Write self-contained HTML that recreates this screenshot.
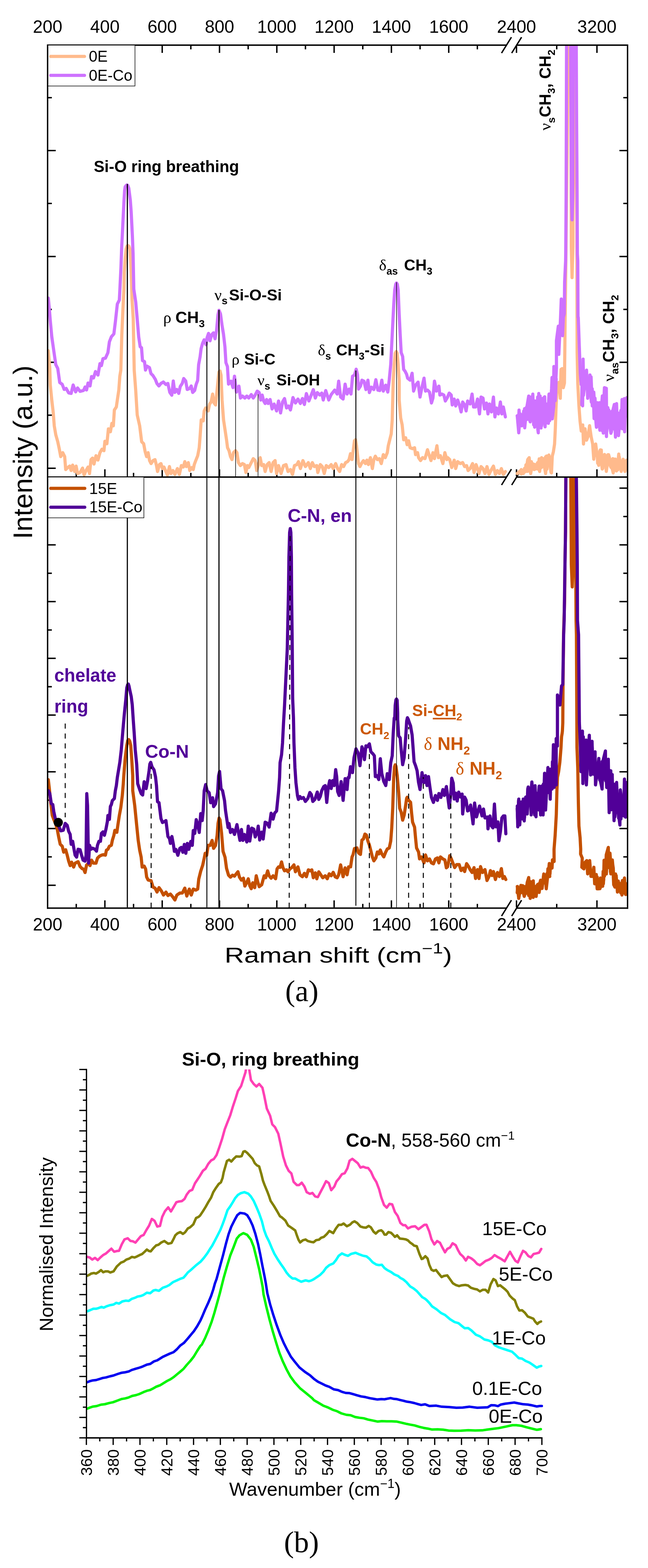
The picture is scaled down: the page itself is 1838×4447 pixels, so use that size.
<!DOCTYPE html>
<html><head><meta charset="utf-8"><title>Raman spectra</title>
<style>html,body{margin:0;padding:0;background:#fff;} svg{display:block}</style></head>
<body><svg width="1838" height="4447" viewBox="0 0 1838 4447">
<rect width="1838" height="4447" fill="#fff"/>
<line x1="135.0" y1="126.0" x2="135.0" y2="2577.5" stroke="#000" stroke-width="4" />
<line x1="1780.0" y1="126.0" x2="1780.0" y2="2577.5" stroke="#000" stroke-width="4" />
<line x1="133.0" y1="128.0" x2="1437.0" y2="128.0" stroke="#000" stroke-width="4" />
<line x1="1464.0" y1="128.0" x2="1782.0" y2="128.0" stroke="#000" stroke-width="4" />
<line x1="133.0" y1="1353.0" x2="1437.0" y2="1353.0" stroke="#000" stroke-width="4" />
<line x1="1464.0" y1="1353.0" x2="1782.0" y2="1353.0" stroke="#000" stroke-width="4" />
<line x1="133.0" y1="2575.5" x2="1437.0" y2="2575.5" stroke="#000" stroke-width="4" />
<line x1="1464.0" y1="2575.5" x2="1782.0" y2="2575.5" stroke="#000" stroke-width="4" />
<line x1="1422.6" y1="150.5" x2="1450.6" y2="105.5" stroke="#000" stroke-width="4" />
<line x1="1451.4" y1="150.5" x2="1479.4" y2="105.5" stroke="#000" stroke-width="4" />
<line x1="1422.6" y1="1375.5" x2="1450.6" y2="1330.5" stroke="#000" stroke-width="4" />
<line x1="1451.4" y1="1375.5" x2="1479.4" y2="1330.5" stroke="#000" stroke-width="4" />
<line x1="1422.6" y1="2598.0" x2="1450.6" y2="2553.0" stroke="#000" stroke-width="4" />
<line x1="1451.4" y1="2598.0" x2="1479.4" y2="2553.0" stroke="#000" stroke-width="4" />
<line x1="297.5" y1="130.0" x2="297.5" y2="150.0" stroke="#000" stroke-width="4" />
<line x1="297.5" y1="1351.0" x2="297.5" y2="1331.0" stroke="#000" stroke-width="4" />
<line x1="297.5" y1="2573.5" x2="297.5" y2="2553.5" stroke="#000" stroke-width="4" />
<line x1="460.1" y1="130.0" x2="460.1" y2="150.0" stroke="#000" stroke-width="4" />
<line x1="460.1" y1="1351.0" x2="460.1" y2="1331.0" stroke="#000" stroke-width="4" />
<line x1="460.1" y1="2573.5" x2="460.1" y2="2553.5" stroke="#000" stroke-width="4" />
<line x1="622.6" y1="130.0" x2="622.6" y2="150.0" stroke="#000" stroke-width="4" />
<line x1="622.6" y1="1351.0" x2="622.6" y2="1331.0" stroke="#000" stroke-width="4" />
<line x1="622.6" y1="2573.5" x2="622.6" y2="2553.5" stroke="#000" stroke-width="4" />
<line x1="785.2" y1="130.0" x2="785.2" y2="150.0" stroke="#000" stroke-width="4" />
<line x1="785.2" y1="1351.0" x2="785.2" y2="1331.0" stroke="#000" stroke-width="4" />
<line x1="785.2" y1="2573.5" x2="785.2" y2="2553.5" stroke="#000" stroke-width="4" />
<line x1="947.7" y1="130.0" x2="947.7" y2="150.0" stroke="#000" stroke-width="4" />
<line x1="947.7" y1="1351.0" x2="947.7" y2="1331.0" stroke="#000" stroke-width="4" />
<line x1="947.7" y1="2573.5" x2="947.7" y2="2553.5" stroke="#000" stroke-width="4" />
<line x1="1110.2" y1="130.0" x2="1110.2" y2="150.0" stroke="#000" stroke-width="4" />
<line x1="1110.2" y1="1351.0" x2="1110.2" y2="1331.0" stroke="#000" stroke-width="4" />
<line x1="1110.2" y1="2573.5" x2="1110.2" y2="2553.5" stroke="#000" stroke-width="4" />
<line x1="1272.8" y1="130.0" x2="1272.8" y2="150.0" stroke="#000" stroke-width="4" />
<line x1="1272.8" y1="1351.0" x2="1272.8" y2="1331.0" stroke="#000" stroke-width="4" />
<line x1="1272.8" y1="2573.5" x2="1272.8" y2="2553.5" stroke="#000" stroke-width="4" />
<line x1="1465.0" y1="130.0" x2="1465.0" y2="150.0" stroke="#000" stroke-width="4" />
<line x1="1465.0" y1="1351.0" x2="1465.0" y2="1331.0" stroke="#000" stroke-width="4" />
<line x1="1465.0" y1="2573.5" x2="1465.0" y2="2553.5" stroke="#000" stroke-width="4" />
<line x1="1693.2" y1="130.0" x2="1693.2" y2="150.0" stroke="#000" stroke-width="4" />
<line x1="1693.2" y1="1351.0" x2="1693.2" y2="1331.0" stroke="#000" stroke-width="4" />
<line x1="1693.2" y1="2573.5" x2="1693.2" y2="2553.5" stroke="#000" stroke-width="4" />
<line x1="216.3" y1="130.0" x2="216.3" y2="140.0" stroke="#000" stroke-width="4" />
<line x1="216.3" y1="1351.0" x2="216.3" y2="1341.0" stroke="#000" stroke-width="4" />
<line x1="216.3" y1="2573.5" x2="216.3" y2="2563.5" stroke="#000" stroke-width="4" />
<line x1="378.8" y1="130.0" x2="378.8" y2="140.0" stroke="#000" stroke-width="4" />
<line x1="378.8" y1="1351.0" x2="378.8" y2="1341.0" stroke="#000" stroke-width="4" />
<line x1="378.8" y1="2573.5" x2="378.8" y2="2563.5" stroke="#000" stroke-width="4" />
<line x1="541.3" y1="130.0" x2="541.3" y2="140.0" stroke="#000" stroke-width="4" />
<line x1="541.3" y1="1351.0" x2="541.3" y2="1341.0" stroke="#000" stroke-width="4" />
<line x1="541.3" y1="2573.5" x2="541.3" y2="2563.5" stroke="#000" stroke-width="4" />
<line x1="703.9" y1="130.0" x2="703.9" y2="140.0" stroke="#000" stroke-width="4" />
<line x1="703.9" y1="1351.0" x2="703.9" y2="1341.0" stroke="#000" stroke-width="4" />
<line x1="703.9" y1="2573.5" x2="703.9" y2="2563.5" stroke="#000" stroke-width="4" />
<line x1="866.4" y1="130.0" x2="866.4" y2="140.0" stroke="#000" stroke-width="4" />
<line x1="866.4" y1="1351.0" x2="866.4" y2="1341.0" stroke="#000" stroke-width="4" />
<line x1="866.4" y1="2573.5" x2="866.4" y2="2563.5" stroke="#000" stroke-width="4" />
<line x1="1029.0" y1="130.0" x2="1029.0" y2="140.0" stroke="#000" stroke-width="4" />
<line x1="1029.0" y1="1351.0" x2="1029.0" y2="1341.0" stroke="#000" stroke-width="4" />
<line x1="1029.0" y1="2573.5" x2="1029.0" y2="2563.5" stroke="#000" stroke-width="4" />
<line x1="1191.5" y1="130.0" x2="1191.5" y2="140.0" stroke="#000" stroke-width="4" />
<line x1="1191.5" y1="1351.0" x2="1191.5" y2="1341.0" stroke="#000" stroke-width="4" />
<line x1="1191.5" y1="2573.5" x2="1191.5" y2="2563.5" stroke="#000" stroke-width="4" />
<line x1="1354.0" y1="130.0" x2="1354.0" y2="140.0" stroke="#000" stroke-width="4" />
<line x1="1354.0" y1="1351.0" x2="1354.0" y2="1341.0" stroke="#000" stroke-width="4" />
<line x1="1354.0" y1="2573.5" x2="1354.0" y2="2563.5" stroke="#000" stroke-width="4" />
<line x1="1579.1" y1="130.0" x2="1579.1" y2="140.0" stroke="#000" stroke-width="4" />
<line x1="1579.1" y1="1351.0" x2="1579.1" y2="1341.0" stroke="#000" stroke-width="4" />
<line x1="1579.1" y1="2573.5" x2="1579.1" y2="2563.5" stroke="#000" stroke-width="4" />
<line x1="137.0" y1="277.0" x2="147.0" y2="277.0" stroke="#000" stroke-width="4" />
<line x1="1778.0" y1="277.0" x2="1768.0" y2="277.0" stroke="#000" stroke-width="4" />
<line x1="137.0" y1="427.0" x2="158.0" y2="427.0" stroke="#000" stroke-width="4" />
<line x1="1778.0" y1="427.0" x2="1757.0" y2="427.0" stroke="#000" stroke-width="4" />
<line x1="137.0" y1="577.0" x2="147.0" y2="577.0" stroke="#000" stroke-width="4" />
<line x1="1778.0" y1="577.0" x2="1768.0" y2="577.0" stroke="#000" stroke-width="4" />
<line x1="137.0" y1="727.5" x2="158.0" y2="727.5" stroke="#000" stroke-width="4" />
<line x1="1778.0" y1="727.5" x2="1757.0" y2="727.5" stroke="#000" stroke-width="4" />
<line x1="137.0" y1="877.5" x2="147.0" y2="877.5" stroke="#000" stroke-width="4" />
<line x1="1778.0" y1="877.5" x2="1768.0" y2="877.5" stroke="#000" stroke-width="4" />
<line x1="137.0" y1="1027.5" x2="158.0" y2="1027.5" stroke="#000" stroke-width="4" />
<line x1="1778.0" y1="1027.5" x2="1757.0" y2="1027.5" stroke="#000" stroke-width="4" />
<line x1="137.0" y1="1177.5" x2="147.0" y2="1177.5" stroke="#000" stroke-width="4" />
<line x1="1778.0" y1="1177.5" x2="1768.0" y2="1177.5" stroke="#000" stroke-width="4" />
<line x1="137.0" y1="1328.0" x2="158.0" y2="1328.0" stroke="#000" stroke-width="4" />
<line x1="1778.0" y1="1328.0" x2="1757.0" y2="1328.0" stroke="#000" stroke-width="4" />
<line x1="137.0" y1="1384.4" x2="158.0" y2="1384.4" stroke="#000" stroke-width="4" />
<line x1="1778.0" y1="1384.4" x2="1757.0" y2="1384.4" stroke="#000" stroke-width="4" />
<line x1="137.0" y1="1464.9" x2="147.0" y2="1464.9" stroke="#000" stroke-width="4" />
<line x1="1778.0" y1="1464.9" x2="1768.0" y2="1464.9" stroke="#000" stroke-width="4" />
<line x1="137.0" y1="1545.3" x2="158.0" y2="1545.3" stroke="#000" stroke-width="4" />
<line x1="1778.0" y1="1545.3" x2="1757.0" y2="1545.3" stroke="#000" stroke-width="4" />
<line x1="137.0" y1="1625.8" x2="147.0" y2="1625.8" stroke="#000" stroke-width="4" />
<line x1="1778.0" y1="1625.8" x2="1768.0" y2="1625.8" stroke="#000" stroke-width="4" />
<line x1="137.0" y1="1706.2" x2="158.0" y2="1706.2" stroke="#000" stroke-width="4" />
<line x1="1778.0" y1="1706.2" x2="1757.0" y2="1706.2" stroke="#000" stroke-width="4" />
<line x1="137.0" y1="1786.7" x2="147.0" y2="1786.7" stroke="#000" stroke-width="4" />
<line x1="1778.0" y1="1786.7" x2="1768.0" y2="1786.7" stroke="#000" stroke-width="4" />
<line x1="137.0" y1="1867.1" x2="158.0" y2="1867.1" stroke="#000" stroke-width="4" />
<line x1="1778.0" y1="1867.1" x2="1757.0" y2="1867.1" stroke="#000" stroke-width="4" />
<line x1="137.0" y1="1947.6" x2="147.0" y2="1947.6" stroke="#000" stroke-width="4" />
<line x1="1778.0" y1="1947.6" x2="1768.0" y2="1947.6" stroke="#000" stroke-width="4" />
<line x1="137.0" y1="2028.0" x2="158.0" y2="2028.0" stroke="#000" stroke-width="4" />
<line x1="1778.0" y1="2028.0" x2="1757.0" y2="2028.0" stroke="#000" stroke-width="4" />
<line x1="137.0" y1="2108.5" x2="147.0" y2="2108.5" stroke="#000" stroke-width="4" />
<line x1="1778.0" y1="2108.5" x2="1768.0" y2="2108.5" stroke="#000" stroke-width="4" />
<line x1="137.0" y1="2188.9" x2="158.0" y2="2188.9" stroke="#000" stroke-width="4" />
<line x1="1778.0" y1="2188.9" x2="1757.0" y2="2188.9" stroke="#000" stroke-width="4" />
<line x1="137.0" y1="2269.4" x2="147.0" y2="2269.4" stroke="#000" stroke-width="4" />
<line x1="1778.0" y1="2269.4" x2="1768.0" y2="2269.4" stroke="#000" stroke-width="4" />
<line x1="137.0" y1="2349.8" x2="158.0" y2="2349.8" stroke="#000" stroke-width="4" />
<line x1="1778.0" y1="2349.8" x2="1757.0" y2="2349.8" stroke="#000" stroke-width="4" />
<line x1="137.0" y1="2430.2" x2="147.0" y2="2430.2" stroke="#000" stroke-width="4" />
<line x1="1778.0" y1="2430.2" x2="1768.0" y2="2430.2" stroke="#000" stroke-width="4" />
<line x1="137.0" y1="2510.7" x2="158.0" y2="2510.7" stroke="#000" stroke-width="4" />
<line x1="1778.0" y1="2510.7" x2="1757.0" y2="2510.7" stroke="#000" stroke-width="4" />
<text x="135.0" y="93.0" font-size="50" text-anchor="middle" font-weight="normal" fill="#000" font-family="'Liberation Sans', Arial, sans-serif" >200</text>
<text x="135.0" y="2639.0" font-size="50" text-anchor="middle" font-weight="normal" fill="#000" font-family="'Liberation Sans', Arial, sans-serif" >200</text>
<text x="297.5" y="93.0" font-size="50" text-anchor="middle" font-weight="normal" fill="#000" font-family="'Liberation Sans', Arial, sans-serif" >400</text>
<text x="297.5" y="2639.0" font-size="50" text-anchor="middle" font-weight="normal" fill="#000" font-family="'Liberation Sans', Arial, sans-serif" >400</text>
<text x="460.1" y="93.0" font-size="50" text-anchor="middle" font-weight="normal" fill="#000" font-family="'Liberation Sans', Arial, sans-serif" >600</text>
<text x="460.1" y="2639.0" font-size="50" text-anchor="middle" font-weight="normal" fill="#000" font-family="'Liberation Sans', Arial, sans-serif" >600</text>
<text x="622.6" y="93.0" font-size="50" text-anchor="middle" font-weight="normal" fill="#000" font-family="'Liberation Sans', Arial, sans-serif" >800</text>
<text x="622.6" y="2639.0" font-size="50" text-anchor="middle" font-weight="normal" fill="#000" font-family="'Liberation Sans', Arial, sans-serif" >800</text>
<text x="785.2" y="93.0" font-size="50" text-anchor="middle" font-weight="normal" fill="#000" font-family="'Liberation Sans', Arial, sans-serif" >1000</text>
<text x="785.2" y="2639.0" font-size="50" text-anchor="middle" font-weight="normal" fill="#000" font-family="'Liberation Sans', Arial, sans-serif" >1000</text>
<text x="947.7" y="93.0" font-size="50" text-anchor="middle" font-weight="normal" fill="#000" font-family="'Liberation Sans', Arial, sans-serif" >1200</text>
<text x="947.7" y="2639.0" font-size="50" text-anchor="middle" font-weight="normal" fill="#000" font-family="'Liberation Sans', Arial, sans-serif" >1200</text>
<text x="1110.2" y="93.0" font-size="50" text-anchor="middle" font-weight="normal" fill="#000" font-family="'Liberation Sans', Arial, sans-serif" >1400</text>
<text x="1110.2" y="2639.0" font-size="50" text-anchor="middle" font-weight="normal" fill="#000" font-family="'Liberation Sans', Arial, sans-serif" >1400</text>
<text x="1272.8" y="93.0" font-size="50" text-anchor="middle" font-weight="normal" fill="#000" font-family="'Liberation Sans', Arial, sans-serif" >1600</text>
<text x="1272.8" y="2639.0" font-size="50" text-anchor="middle" font-weight="normal" fill="#000" font-family="'Liberation Sans', Arial, sans-serif" >1600</text>
<text x="1465.0" y="93.0" font-size="50" text-anchor="middle" font-weight="normal" fill="#000" font-family="'Liberation Sans', Arial, sans-serif" >2400</text>
<text x="1465.0" y="2639.0" font-size="50" text-anchor="middle" font-weight="normal" fill="#000" font-family="'Liberation Sans', Arial, sans-serif" >2400</text>
<text x="1693.2" y="93.0" font-size="50" text-anchor="middle" font-weight="normal" fill="#000" font-family="'Liberation Sans', Arial, sans-serif" >3200</text>
<text x="1693.2" y="2639.0" font-size="50" text-anchor="middle" font-weight="normal" fill="#000" font-family="'Liberation Sans', Arial, sans-serif" >3200</text>
<defs><clipPath id="cpT"><rect x="137" y="130" width="1641" height="1221"/></clipPath><clipPath id="cpB"><rect x="137" y="1355" width="1641" height="1218.5"/></clipPath><clipPath id="cpP"><rect x="247" y="3033" width="1400" height="1043"/></clipPath></defs>
<path d="M137.0,994.6 L141.3,1045.4 L142.7,1092.3 L146.9,1134.5 L151.1,1171.1 L153.9,1207.7 L158.2,1233.1 L163.8,1252.8 L168.0,1272.5 L172.3,1295.1 L177.9,1283.8 L183.5,1295.1 L186.3,1331.7 L192.0,1326.0 L197.6,1321.8 L201.8,1334.5 L206.1,1319.0 L211.7,1337.3 L215.9,1321.8 L220.1,1343.0 L227.2,1340.1 L234.2,1327.5 L238.5,1347.2 L244.1,1334.5 L249.7,1324.6 L253.9,1343.0 L258.2,1303.5 L262.4,1299.3 L266.6,1316.2 L272.3,1292.3 L277.9,1304.9 L283.5,1283.8 L289.2,1273.9 L294.8,1278.2 L297.6,1251.4 L303.2,1258.5 L307.5,1216.2 L313.1,1224.6 L317.3,1200.7 L321.5,1207.7 L324.4,1162.7 L330.0,1154.2 L332.8,1134.5 L337.0,1106.3 L339.9,1066.9 L342.7,1050.0 L345.5,950.0 L348.5,880.0 L351.6,820.0 L352.6,772.0 L355.2,732.6 L357.8,706.0 L360.5,698.0 L363.1,696.5 L365.5,698.0 L368.4,706.3 L370.3,732.6 L372.0,772.0 L373.0,800.0 L374.5,850.0 L377.9,904.5 L380.7,1050.0 L384.9,1106.3 L389.2,1176.8 L396.2,1207.7 L401.8,1252.8 L407.5,1258.5 L411.7,1281.0 L415.9,1295.1 L420.1,1283.8 L424.2,1306.3 L428.5,1314.8 L434.1,1306.3 L439.7,1303.5 L443.9,1320.4 L446.8,1337.3 L452.4,1317.6 L456.6,1314.8 L460.8,1328.9 L465.1,1324.6 L469.3,1334.5 L474.9,1347.2 L480.6,1323.2 L484.8,1343.0 L490.4,1334.5 L496.1,1345.8 L503.1,1328.9 L508.7,1345.8 L514.4,1320.4 L520.0,1324.6 L524.2,1309.2 L528.5,1323.2 L534.1,1312.0 L538.3,1334.5 L543.9,1326.0 L548.2,1331.7 L551.0,1317.6 L555.2,1306.3 L560.8,1292.3 L565.1,1269.7 L567.9,1233.1 L570.7,1190.8 L576.3,1193.7 L579.2,1165.5 L583.4,1157.0 L590.4,1165.5 L594.6,1145.8 L598.9,1140.1 L603.1,1117.6 L607.3,1143.0 L611.5,1148.6 L615.8,1106.3 L618.6,1078.2 L621.0,1055.0 L624.0,1052.0 L627.0,1064.1 L629.9,1134.5 L634.1,1190.8 L638.3,1219.0 L642.5,1247.2 L645.4,1269.7 L649.6,1278.2 L653.8,1295.1 L658.0,1303.5 L662.3,1283.8 L667.9,1278.2 L672.1,1283.8 L676.3,1312.0 L681.9,1320.4 L687.6,1314.8 L693.2,1317.6 L697.5,1340.1 L701.7,1320.4 L705.6,1326.0 L711.3,1314.8 L718.3,1300.7 L723.9,1306.3 L728.2,1334.5 L732.4,1320.4 L738.0,1297.9 L742.3,1320.4 L747.9,1317.6 L752.1,1337.3 L757.7,1317.6 L763.4,1312.0 L769.0,1337.3 L774.6,1312.0 L780.3,1306.3 L784.5,1343.0 L790.1,1320.4 L797.2,1343.0 L804.2,1320.4 L811.3,1317.6 L816.9,1337.3 L823.9,1331.7 L829.6,1345.8 L835.2,1320.4 L842.3,1317.6 L846.5,1309.2 L852.1,1328.9 L859.2,1306.3 L866.2,1323.2 L874.6,1312.0 L880.3,1328.9 L885.9,1312.0 L891.5,1323.2 L898.6,1320.4 L901.4,1340.1 L908.5,1317.6 L914.1,1323.2 L919.7,1343.0 L925.4,1320.4 L932.4,1326.0 L939.4,1317.6 L945.1,1328.9 L952.1,1314.8 L957.7,1328.9 L963.4,1337.3 L969.0,1317.6 L974.6,1323.2 L980.3,1312.0 L985.9,1309.2 L990.0,1303.5 L994.2,1286.6 L998.5,1303.5 L1005.5,1250.0 L1008.5,1247.0 L1011.1,1264.1 L1016.8,1314.8 L1021.0,1323.2 L1025.2,1314.8 L1030.8,1306.3 L1036.5,1314.8 L1040.7,1304.9 L1044.9,1317.6 L1050.6,1297.9 L1056.2,1328.9 L1060.4,1303.5 L1064.6,1293.7 L1070.3,1303.5 L1075.9,1300.7 L1081.5,1314.8 L1087.2,1289.4 L1092.8,1297.9 L1098.5,1283.8 L1101.3,1264.1 L1105.5,1247.2 L1109.7,1230.3 L1112.5,1190.8 L1113.9,1134.5 L1115.4,1078.6 L1118.2,1033.5 L1121.0,1002.0 L1123.8,997.0 L1126.5,1002.0 L1129.4,1033.5 L1132.3,1078.6 L1132.3,1134.5 L1136.5,1185.2 L1140.7,1204.9 L1144.9,1247.2 L1150.6,1241.5 L1154.8,1261.3 L1159.0,1250.0 L1163.2,1269.7 L1170.3,1272.5 L1175.9,1269.7 L1178.7,1289.4 L1184.4,1283.8 L1187.2,1297.9 L1192.8,1306.3 L1198.5,1297.9 L1205.5,1300.7 L1212.5,1275.4 L1216.8,1289.4 L1222.4,1306.3 L1228.0,1283.8 L1232.3,1300.7 L1239.3,1264.1 L1243.5,1297.9 L1249.2,1292.3 L1256.2,1314.8 L1261.8,1283.8 L1267.5,1303.5 L1270.0,1297.9 L1275.6,1303.5 L1281.3,1326.0 L1288.3,1304.9 L1292.5,1328.9 L1298.2,1309.2 L1305.2,1314.8 L1312.3,1312.0 L1317.9,1323.2 L1323.5,1320.4 L1327.7,1334.5 L1333.4,1328.9 L1340.4,1314.8 L1344.6,1340.1 L1350.3,1317.6 L1354.5,1328.9 L1358.7,1343.0 L1364.4,1323.2 L1370.0,1328.9 L1375.6,1343.0 L1381.3,1323.2 L1386.9,1345.8 L1393.9,1331.7 L1399.6,1321.8 L1405.2,1345.8 L1410.8,1334.5 L1416.5,1343.0 L1422.1,1328.9 L1427.7,1345.8 L1433.4,1337.3" fill="none" stroke="#FFBA8C" stroke-width="9" stroke-linejoin="round" stroke-linecap="round" clip-path="url(#cpT)" />
<path d="M1467.2,1343.0 L1472.8,1340.1 L1478.5,1331.7 L1484.1,1343.0 L1492.5,1331.7 L1496.8,1303.5 L1501.0,1297.9 L1505.2,1343.0 L1509.4,1320.4 L1515.1,1331.7 L1520.7,1323.2 L1524.9,1312.0 L1530.6,1337.3 L1536.2,1297.9 L1541.8,1309.2 L1547.5,1343.0 L1551.7,1303.5 L1557.3,1300.7 L1563.0,1340.1 L1564.3,1341.3 L1566.5,1293.7 L1569.7,1280.8 L1573.0,1259.2 L1575.1,1216.0 L1577.3,1151.2 L1579.4,1108.0 L1581.6,1086.4 L1585.9,1084.2 L1589.2,1129.6 L1591.3,1047.5 L1594.6,1045.4 L1597.8,1099.4 L1601.0,1086.4 L1602.0,1000.0 L1603.0,900.0 L1605.0,740.0 L1607.0,560.0 L1610.0,300.0 L1611.0,130.0 L1612.0,100.0 L1619.0,100.0 L1619.5,300.0 L1620.0,560.0 L1620.5,700.0 L1622.6,787.5 L1625.0,700.0 L1625.5,560.0 L1626.0,300.0 L1626.5,130.0 L1627.0,100.0 L1629.0,100.0 L1630.3,333.0 L1634.0,480.0 L1636.0,620.0 L1636.5,800.0 L1637.0,1000.0 L1638.8,1086.4 L1642.1,1151.2 L1645.3,1194.4 L1648.6,1222.5 L1652.9,1205.2 L1655.0,1259.2 L1659.4,1216.0 L1663.7,1248.4 L1668.0,1237.6 L1672.3,1207.3 L1676.6,1237.6 L1681.0,1259.2 L1684.2,1302.4 L1689.6,1259.2 L1693.9,1291.6 L1698.2,1319.7 L1702.5,1289.4 L1709.0,1324.0 L1715.5,1291.6 L1719.8,1337.0 L1726.3,1289.4 L1732.8,1313.2 L1739.3,1341.3 L1745.7,1302.4 L1752.2,1324.0 L1756.5,1295.9 L1762.0,1337.0 L1767.3,1302.4 L1772.7,1337.0 L1778.1,1306.7" fill="none" stroke="#FFBA8C" stroke-width="9" stroke-linejoin="round" stroke-linecap="round" clip-path="url(#cpT)" />
<path d="M1467.0,1342.6 L1468.3,1342.6 L1469.6,1340.2 L1470.9,1339.8 L1472.2,1337.9 L1473.5,1340.6 L1474.8,1340.8 L1476.1,1337.9 L1477.4,1337.9 L1478.7,1344.6 L1480.0,1341.5 L1481.3,1333.7 L1482.6,1335.4 L1483.9,1342.4 L1485.2,1340.7 L1486.5,1339.5 L1487.8,1328.2 L1489.1,1331.5 L1490.4,1337.4 L1491.7,1318.3 L1493.0,1333.6 L1494.3,1324.0 L1495.6,1337.0 L1496.9,1313.5 L1498.2,1325.2 L1499.5,1330.4 L1500.8,1313.0 L1502.1,1336.6 L1503.4,1336.0 L1504.7,1313.1 L1506.0,1331.6 L1507.3,1309.4 L1508.6,1321.9 L1509.9,1320.2 L1511.2,1315.0 L1512.5,1317.8 L1513.8,1328.8 L1515.1,1320.0 L1516.4,1317.1 L1517.7,1330.8 L1519.0,1326.6 L1520.3,1327.5 L1521.6,1319.4 L1522.9,1318.1 L1524.2,1330.1 L1525.5,1323.4 L1526.8,1323.3 L1528.1,1311.9 L1529.4,1301.2 L1530.7,1321.7 L1532.0,1302.8 L1533.3,1319.7 L1534.6,1314.2 L1535.9,1325.7 L1537.2,1308.9 L1538.5,1323.3 L1539.8,1311.0 L1541.1,1300.7 L1542.4,1317.1 L1543.7,1312.0 L1545.0,1308.8 L1546.3,1302.5 L1547.6,1295.5 L1548.9,1307.6 L1550.2,1293.3 L1551.5,1330.4 L1552.8,1314.0 L1554.1,1304.8 L1555.4,1319.8 L1556.7,1290.5 L1558.0,1298.8 L1559.3,1316.2 L1560.6,1296.4 L1561.9,1310.5 L1563.2,1304.2 L1564.5,1335.9" fill="none" stroke="#FFBA8C" stroke-width="9" stroke-linejoin="round" stroke-linecap="round" clip-path="url(#cpT)" />
<path d="M1690.0,1291.1 L1691.3,1284.9 L1692.6,1285.9 L1693.9,1286.0 L1695.2,1313.8 L1696.5,1301.6 L1697.8,1303.0 L1699.1,1285.1 L1700.4,1298.5 L1701.7,1278.4 L1703.0,1275.8 L1704.3,1302.4 L1705.6,1276.5 L1706.9,1320.2 L1708.2,1330.2 L1709.5,1328.9 L1710.8,1305.1 L1712.1,1310.3 L1713.4,1305.6 L1714.7,1288.9 L1716.0,1296.7 L1717.3,1295.3 L1718.6,1297.4 L1719.9,1313.1 L1721.2,1320.9 L1722.5,1314.4 L1723.8,1289.8 L1725.1,1314.1 L1726.4,1300.6 L1727.7,1311.1 L1729.0,1316.2 L1730.3,1318.9 L1731.6,1322.3 L1732.9,1325.7 L1734.2,1306.4 L1735.5,1309.0 L1736.8,1322.5 L1738.1,1300.8 L1739.4,1324.5 L1740.7,1315.4 L1742.0,1314.3 L1743.3,1323.1 L1744.6,1301.9 L1745.9,1322.7 L1747.2,1322.7 L1748.5,1335.7 L1749.8,1310.9 L1751.1,1316.2 L1752.4,1332.2 L1753.7,1300.5 L1755.0,1287.8 L1756.3,1308.1 L1757.6,1311.3 L1758.9,1326.3 L1760.2,1314.0 L1761.5,1316.9 L1762.8,1333.8 L1764.1,1312.3 L1765.4,1309.4 L1766.7,1305.2 L1768.0,1304.1 L1769.3,1308.1 L1770.6,1331.5 L1771.9,1325.3 L1773.2,1325.9 L1774.5,1324.3 L1775.8,1314.3 L1777.1,1305.3" fill="none" stroke="#FFBA8C" stroke-width="9" stroke-linejoin="round" stroke-linecap="round" clip-path="url(#cpT)" />
<path d="M137.0,845.4 L139.9,876.0 L142.7,910.0 L146.9,955.0 L152.5,994.6 L158.2,1034.0 L163.8,1045.0 L169.4,1084.8 L176.5,1090.0 L182.0,1104.5 L187.7,1101.7 L194.8,1114.4 L201.8,1115.8 L207.5,1091.8 L214.5,1111.5 L220.1,1100.3 L227.2,1110.0 L237.0,1107.3 L241.3,1097.5 L245.5,1106.0 L249.7,1086.2 L255.4,1094.6 L259.6,1067.9 L265.2,1072.1 L270.8,1053.8 L277.9,1063.7 L283.5,1031.3 L287.7,1036.9 L292.0,1017.2 L299.0,1015.8 L306.0,1000.3 L310.3,969.3 L315.9,955.2 L323.0,946.8 L327.2,913.0 L332.8,862.3 L338.5,851.0 L340.1,820.0 L343.0,760.0 L345.2,700.0 L346.8,669.0 L348.4,635.2 L350.1,601.4 L351.8,567.6 L353.5,540.0 L355.0,530.0 L358.0,526.0 L360.3,524.5 L362.5,526.0 L365.3,533.8 L369.6,567.6 L372.1,601.4 L373.8,635.2 L375.5,669.0 L377.5,720.0 L379.5,820.0 L385.0,856.6 L389.2,904.5 L393.4,955.2 L397.6,983.4 L401.4,986.2 L404.2,1022.8 L409.9,1025.6 L412.7,1049.6 L416.9,1038.3 L423.9,1042.5 L428.2,1059.4 L433.8,1065.0 L440.8,1076.3 L445.1,1087.6 L450.7,1094.6 L456.3,1087.6 L463.4,1083.4 L470.4,1090.4 L476.1,1087.6 L481.7,1113.0 L487.3,1120.8 L491.5,1080.6 L495.8,1113.0 L501.4,1104.5 L507.0,1115.8 L511.3,1096.0 L516.9,1087.6 L521.1,1073.5 L526.8,1080.6 L531.0,1104.5 L538.0,1101.7 L542.3,1094.6 L546.5,1113.0 L552.1,1107.3 L556.3,1090.4 L560.6,1079.2 L563.4,1034.1 L567.6,1011.5 L570.4,989.0 L574.6,973.5 L578.9,963.7 L584.5,977.7 L587.3,958.0 L591.5,945.4 L595.8,966.5 L600.0,949.6 L605.6,943.9 L609.9,960.8 L614.1,938.3 L618.3,893.2 L621.1,880.0 L625.4,890.4 L629.6,921.4 L633.8,946.8 L638.0,983.4 L640.8,1028.5 L645.1,1039.7 L648.2,1089.4 L655.2,1081.0 L660.8,1099.3 L665.1,1066.9 L670.7,1112.0 L677.7,1095.1 L682.0,1128.9 L687.6,1123.2 L694.6,1128.9 L700.0,1123.2 L705.6,1128.9 L712.7,1119.0 L718.3,1128.9 L723.9,1120.4 L729.6,1109.2 L735.2,1113.4 L739.4,1134.5 L743.7,1120.4 L747.9,1137.3 L752.1,1144.4 L756.3,1133.1 L760.6,1144.4 L766.2,1133.1 L771.8,1159.9 L777.5,1145.8 L784.5,1165.5 L790.1,1137.3 L795.8,1171.1 L801.4,1140.1 L807.0,1130.3 L812.7,1157.0 L818.3,1151.4 L823.9,1162.7 L831.0,1127.5 L838.0,1143.0 L845.1,1131.7 L852.1,1144.4 L857.7,1130.3 L863.4,1147.2 L869.0,1116.2 L876.1,1137.3 L881.7,1123.2 L888.7,1104.9 L894.4,1128.9 L900.0,1113.4 L907.0,1120.4 L912.7,1114.8 L916.9,1134.5 L923.9,1107.7 L932.4,1134.5 L939.4,1119.0 L949.3,1106.3 L956.3,1117.6 L960.6,1081.0 L966.2,1126.1 L973.2,1131.7 L978.9,1089.4 L984.5,1117.6 L990.0,1103.5 L995.6,1117.6 L999.9,1066.9 L1005.5,1064.1 L1010.3,1047.0 L1013.9,1061.7 L1016.8,1103.5 L1022.4,1095.1 L1026.6,1078.2 L1032.3,1081.0 L1037.9,1104.9 L1043.5,1078.2 L1047.7,1113.4 L1053.4,1097.9 L1060.4,1104.9 L1066.1,1076.8 L1071.7,1106.3 L1077.3,1107.7 L1083.0,1078.2 L1087.2,1109.2 L1094.2,1092.3 L1099.9,1112.0 L1104.1,1077.0 L1108.3,1033.5 L1111.1,977.2 L1113.9,920.8 L1116.8,864.5 L1119.6,822.3 L1122.5,806.0 L1124.6,802.5 L1127.0,806.0 L1129.4,822.3 L1132.3,892.7 L1135.1,949.0 L1137.9,999.7 L1142.1,1011.0 L1144.9,1047.6 L1149.2,1053.2 L1153.4,1061.7 L1156.2,1072.5 L1163.2,1078.2 L1168.9,1058.5 L1173.1,1109.2 L1178.7,1092.3 L1185.8,1083.8 L1191.4,1126.1 L1197.0,1097.9 L1202.7,1072.5 L1206.9,1109.2 L1212.5,1106.3 L1218.2,1112.0 L1223.8,1143.0 L1228.0,1128.9 L1232.3,1081.0 L1237.9,1109.2 L1244.9,1095.1 L1247.7,1120.4 L1253.4,1117.6 L1259.0,1120.4 L1263.2,1137.3 L1268.9,1127.5 L1274.2,1114.8 L1279.9,1120.4 L1282.7,1148.6 L1288.3,1131.7 L1292.5,1151.4 L1298.2,1134.5 L1303.8,1151.4 L1308.0,1168.3 L1312.3,1140.1 L1317.9,1148.6 L1322.1,1165.5 L1326.3,1137.3 L1333.4,1145.8 L1339.0,1117.6 L1343.2,1154.2 L1348.9,1154.2 L1354.5,1131.7 L1360.1,1173.9 L1364.4,1126.1 L1370.0,1128.9 L1374.2,1159.9 L1379.9,1143.0 L1384.1,1173.9 L1388.3,1145.8 L1393.9,1168.3 L1399.6,1126.1 L1403.8,1182.4 L1408.0,1157.0 L1413.7,1173.9 L1419.3,1140.1 L1423.5,1173.9 L1427.7,1154.2 L1433.4,1182.4" fill="none" stroke="#CE72FF" stroke-width="9" stroke-linejoin="round" stroke-linecap="round" clip-path="url(#cpT)" />
<path d="M1467.2,1179.6 L1471.4,1227.5 L1475.6,1173.9 L1479.9,1207.7 L1485.5,1165.5 L1488.3,1213.4 L1494.0,1157.0 L1499.6,1123.2 L1503.8,1196.5 L1509.4,1137.3 L1513.7,1204.9 L1517.9,1137.3 L1522.1,1199.3 L1525.0,1126.1 L1529.2,1210.6 L1532.0,1123.2 L1536.2,1207.7 L1541.8,1143.0 L1546.1,1210.6 L1548.9,1145.8 L1553.1,1190.8 L1557.3,1117.6 L1561.5,1176.8 L1566.5,1187.9 L1570.8,1151.2 L1571.9,1090.7 L1576.2,1086.4 L1578.3,1043.2 L1578.3,966.0 L1583.6,925.0 L1585.0,1005.0 L1590.0,900.0 L1592.0,848.0 L1594.0,880.0 L1595.6,952.0 L1598.0,900.0 L1600.5,890.0 L1601.5,800.0 L1604.3,740.0 L1604.6,720.0 L1605.7,560.0 L1606.5,300.0 L1607.0,110.0 L1618.0,110.0 L1618.5,130.0 L1619.5,300.0 L1620.9,560.0 L1622.6,623.5 L1624.4,560.0 L1625.5,300.0 L1626.0,130.0 L1626.5,110.0 L1634.0,110.0 L1634.5,130.0 L1635.5,340.0 L1637.0,560.0 L1637.7,720.0 L1638.8,740.0 L1639.5,900.0 L1640.2,900.0 L1643.0,980.0 L1646.0,1060.0 L1648.6,1090.7 L1652.9,1064.8 L1655.0,1121.0 L1659.4,1082.1 L1663.7,1049.7 L1666.9,1129.6 L1672.3,1082.1 L1676.6,1069.1 L1679.9,1151.2 L1684.2,1112.3 L1687.4,1162.0 L1691.7,1211.7 L1695.0,1151.2 L1701.5,1220.3 L1704.7,1151.2 L1709.0,1222.5 L1714.4,1099.4 L1719.8,1101.5 L1720.9,1224.6 L1725.2,1168.5 L1729.5,1207.3 L1732.8,1228.9 L1737.1,1168.5 L1742.5,1146.9 L1745.7,1239.7 L1750.1,1175.0 L1754.4,1235.4 L1760.9,1164.1 L1765.2,1216.0 L1768.4,1146.9 L1771.7,1224.6 L1774.9,1133.9 L1778.1,1127.4" fill="none" stroke="#CE72FF" stroke-width="9" stroke-linejoin="round" stroke-linecap="round" clip-path="url(#cpT)" />
<path d="M1467.0,1179.1 L1468.3,1184.4 L1469.6,1204.2 L1470.9,1196.5 L1472.2,1162.9 L1473.5,1176.8 L1474.8,1192.9 L1476.1,1181.2 L1477.4,1202.2 L1478.7,1179.6 L1480.0,1189.7 L1481.3,1191.5 L1482.6,1187.9 L1483.9,1194.5 L1485.2,1200.9 L1486.5,1192.2 L1487.8,1159.0 L1489.1,1177.0 L1490.4,1191.1 L1491.7,1170.4 L1493.0,1155.4 L1494.3,1189.7 L1495.6,1151.0 L1496.9,1151.8 L1498.2,1181.1 L1499.5,1165.6 L1500.8,1175.1 L1502.1,1192.0 L1503.4,1132.3 L1504.7,1158.2 L1506.0,1140.5 L1507.3,1125.4 L1508.6,1175.7 L1509.9,1190.5 L1511.2,1117.7 L1512.5,1146.0 L1513.8,1156.0 L1515.1,1179.9 L1516.4,1211.4 L1517.7,1177.7 L1519.0,1161.0 L1520.3,1148.6 L1521.6,1150.4 L1522.9,1187.6 L1524.2,1194.0 L1525.5,1218.6 L1526.8,1227.5 L1528.1,1116.0 L1529.4,1166.8 L1530.7,1135.8 L1532.0,1169.9 L1533.3,1173.4 L1534.6,1213.8 L1535.9,1160.2 L1537.2,1171.5 L1538.5,1130.2 L1539.8,1194.5 L1541.1,1184.7 L1542.4,1197.6 L1543.7,1126.2 L1545.0,1125.2 L1546.3,1182.3 L1547.6,1190.4 L1548.9,1180.4 L1550.2,1199.4 L1551.5,1146.4 L1552.8,1194.6 L1554.1,1160.0 L1555.4,1200.4 L1556.7,1188.8 L1558.0,1170.5 L1559.3,1192.7 L1560.6,1167.1 L1561.9,1167.3 L1563.2,1121.0 L1564.5,1102.8 L1565.8,1070.6 L1567.1,1082.9 L1568.4,1072.6 L1569.7,1140.0 L1571.0,1039.4 L1572.3,1057.4 L1573.6,1085.4 L1574.9,1136.3 L1576.2,1112.8 L1577.5,1074.3" fill="none" stroke="#CE72FF" stroke-width="9" stroke-linejoin="round" stroke-linecap="round" clip-path="url(#cpT)" />
<path d="M1650.0,1148.1 L1651.3,1052.5 L1652.6,1151.0 L1653.9,1018.5 L1655.2,1081.0 L1656.5,1064.8 L1657.8,1095.9 L1659.1,1068.2 L1660.4,1098.3 L1661.7,1084.0 L1663.0,1099.8 L1664.3,1081.1 L1665.6,1079.0 L1666.9,1098.5 L1668.2,1111.0 L1669.5,1074.4 L1670.8,1109.2 L1672.1,1106.9 L1673.4,1063.4 L1674.7,1119.2 L1676.0,1125.3 L1677.3,1140.4 L1678.6,1141.7 L1679.9,1102.9 L1681.2,1151.0 L1682.5,1150.7 L1683.8,1151.2 L1685.1,1187.2 L1686.4,1140.4 L1687.7,1129.5 L1689.0,1152.9 L1690.3,1162.3 L1691.6,1177.8 L1692.9,1156.2 L1694.2,1142.1 L1695.5,1190.7 L1696.8,1161.4 L1698.1,1173.8 L1699.4,1185.6 L1700.7,1142.0 L1702.0,1195.6 L1703.3,1201.3 L1704.6,1158.7 L1705.9,1148.0 L1707.2,1139.3 L1708.5,1122.8 L1709.8,1160.1 L1711.1,1228.3 L1712.4,1199.9 L1713.7,1158.9 L1715.0,1188.1 L1716.3,1132.2 L1717.6,1201.4 L1718.9,1210.9 L1720.2,1238.1 L1721.5,1185.7 L1722.8,1195.4 L1724.1,1156.3 L1725.4,1206.4 L1726.7,1162.8 L1728.0,1168.5 L1729.3,1200.2 L1730.6,1196.6 L1731.9,1180.4 L1733.2,1174.1 L1734.5,1224.4 L1735.8,1166.2 L1737.1,1168.8 L1738.4,1196.6 L1739.7,1213.6 L1741.0,1192.4 L1742.3,1183.8 L1743.6,1218.9 L1744.9,1209.1 L1746.2,1186.5 L1747.5,1172.1 L1748.8,1144.7 L1750.1,1184.4 L1751.4,1197.0 L1752.7,1207.3 L1754.0,1171.8 L1755.3,1184.3 L1756.6,1188.1 L1757.9,1216.0 L1759.2,1206.0 L1760.5,1202.6 L1761.8,1179.2 L1763.1,1182.2 L1764.4,1132.9 L1765.7,1144.4 L1767.0,1133.5 L1768.3,1155.8 L1769.6,1154.3 L1770.9,1130.4 L1772.2,1166.4 L1773.5,1154.7 L1774.8,1155.5 L1776.1,1154.3 L1777.4,1180.1" fill="none" stroke="#CE72FF" stroke-width="9" stroke-linejoin="round" stroke-linecap="round" clip-path="url(#cpT)" />
<path d="M137.0,2211.3 L139.9,2236.6 L144.1,2278.9 L148.3,2312.7 L152.5,2323.9 L158.2,2338.0 L162.4,2352.1 L166.6,2374.6 L170.8,2394.4 L176.5,2400.0 L180.7,2416.9 L186.3,2409.9 L190.6,2425.4 L194.8,2442.3 L199.0,2454.9 L203.2,2445.1 L208.9,2459.2 L213.1,2447.9 L221.5,2443.7 L227.2,2457.7 L232.8,2463.4 L237.0,2464.8 L241.3,2474.6 L245.5,2453.5 L251.1,2447.9 L255.4,2454.9 L259.6,2439.4 L265.2,2447.9 L272.3,2447.9 L276.5,2433.8 L282.1,2428.2 L287.7,2425.4 L293.4,2423.9 L299.0,2425.4 L301.8,2411.3 L306.1,2408.5 L310.3,2400.0 L315.9,2397.2 L318.7,2383.1 L323.0,2369.0 L325.8,2354.9 L331.4,2360.6 L334.2,2340.8 L338.5,2312.7 L342.7,2290.1 L346.9,2256.3 L349.7,2222.5 L351.1,2200.0 L355.4,2147.9 L359.6,2114.1 L362.5,2100.0 L365.2,2097.5 L368.0,2102.0 L370.8,2114.1 L373.7,2153.5 L376.5,2200.0 L376.5,2242.3 L382.1,2284.5 L387.7,2340.8 L392.0,2383.1 L396.2,2411.3 L400.4,2431.0 L403.2,2459.2 L408.9,2456.3 L413.1,2464.8 L415.9,2487.3 L420.1,2495.8 L428.5,2497.6 L434.1,2515.9 L439.7,2518.7 L445.4,2530.0 L451.0,2517.3 L458.0,2527.2 L463.7,2538.5 L470.7,2530.0 L476.3,2539.9 L483.4,2535.6 L490.4,2544.1 L496.1,2552.5 L501.7,2538.5 L510.1,2532.8 L517.2,2532.8 L524.2,2518.7 L529.9,2541.3 L536.9,2521.5 L542.5,2538.5 L548.2,2521.5 L555.2,2524.4 L560.8,2521.5 L563.7,2493.4 L569.3,2470.8 L574.9,2453.9 L579.2,2434.2 L582.0,2420.1 L586.2,2425.8 L590.4,2397.6 L596.1,2397.6 L601.7,2383.5 L605.9,2406.1 L611.5,2397.6 L615.8,2369.4 L618.5,2335.0 L621.4,2320.0 L624.0,2325.0 L628.5,2363.8 L632.7,2414.5 L638.3,2431.4 L642.5,2462.4 L648.2,2482.1 L653.8,2487.7 L659.4,2482.1 L665.1,2484.9 L669.3,2479.3 L674.9,2472.3 L679.2,2487.7 L684.8,2496.2 L690.4,2490.6 L694.6,2513.1 L698.9,2504.6 L704.2,2492.3 L708.5,2512.0 L712.7,2520.4 L716.9,2503.5 L722.5,2517.6 L726.8,2483.8 L731.0,2500.7 L735.2,2514.8 L742.3,2509.2 L749.3,2483.8 L753.5,2489.4 L759.2,2469.7 L763.4,2483.8 L769.0,2490.8 L774.6,2483.8 L781.7,2492.3 L785.9,2464.1 L790.1,2458.5 L794.4,2459.9 L798.6,2444.4 L802.8,2461.3 L807.0,2469.7 L812.7,2466.9 L816.9,2472.5 L822.5,2464.1 L828.2,2459.9 L833.8,2452.8 L838.0,2472.5 L845.1,2458.5 L850.7,2481.0 L857.7,2486.6 L863.4,2476.8 L869.0,2486.6 L874.6,2466.9 L880.3,2469.7 L884.5,2466.9 L888.7,2489.4 L894.4,2475.4 L898.6,2492.3 L904.2,2472.5 L909.9,2481.0 L915.5,2489.4 L922.5,2483.8 L928.2,2492.3 L933.8,2478.2 L939.4,2483.8 L945.1,2473.9 L950.7,2486.6 L956.3,2489.4 L960.6,2481.0 L966.2,2452.8 L973.2,2486.6 L978.9,2461.3 L984.5,2481.0 L988.7,2458.5 L994.4,2458.5 L998.6,2430.0 L1001.3,2424.6 L1005.5,2406.3 L1012.5,2404.9 L1016.8,2419.0 L1022.4,2423.2 L1026.6,2382.4 L1030.8,2379.6 L1035.1,2365.5 L1039.3,2368.3 L1043.5,2385.2 L1047.7,2396.5 L1052.0,2413.4 L1056.2,2430.3 L1060.4,2441.5 L1066.1,2433.1 L1070.3,2416.2 L1074.5,2421.8 L1078.7,2410.6 L1083.0,2421.8 L1088.6,2430.3 L1094.2,2416.2 L1098.5,2407.7 L1104.1,2404.9 L1108.3,2385.2 L1111.1,2348.6 L1113.9,2292.3 L1116.8,2205.4 L1119.0,2175.0 L1121.0,2169.0 L1123.0,2173.0 L1126.6,2199.7 L1130.8,2247.6 L1133.7,2292.3 L1137.9,2303.5 L1142.1,2326.1 L1146.3,2312.0 L1150.6,2283.8 L1153.4,2264.0 L1155.0,2261.0 L1159.0,2269.7 L1164.6,2275.4 L1167.5,2306.3 L1170.3,2331.7 L1175.9,2345.8 L1178.7,2376.8 L1181.5,2404.9 L1187.2,2416.2 L1190.0,2435.9 L1195.6,2430.3 L1202.7,2447.2 L1206.9,2424.6 L1212.5,2441.5 L1218.2,2435.9 L1223.8,2447.2 L1229.4,2450.0 L1235.1,2435.9 L1240.7,2433.1 L1244.9,2447.2 L1249.2,2430.3 L1256.2,2435.9 L1261.8,2438.7 L1266.1,2461.3 L1270.0,2457.7 L1275.6,2426.8 L1279.9,2435.2 L1284.1,2446.5 L1289.7,2460.6 L1295.4,2452.1 L1302.4,2452.1 L1308.0,2469.0 L1313.7,2462.0 L1317.9,2471.8 L1323.5,2449.3 L1329.2,2457.7 L1333.4,2466.2 L1339.0,2474.6 L1344.6,2460.6 L1348.9,2491.5 L1354.5,2466.2 L1358.7,2491.5 L1363.0,2457.7 L1368.6,2474.6 L1375.6,2466.2 L1381.3,2497.2 L1386.9,2485.9 L1391.1,2469.0 L1395.4,2483.1 L1399.6,2471.8 L1405.2,2494.4 L1410.8,2474.6 L1416.5,2485.9 L1422.1,2463.4 L1426.3,2491.5 L1430.6,2485.9 L1434.8,2494.4" fill="none" stroke="#C45000" stroke-width="9" stroke-linejoin="round" stroke-linecap="round" clip-path="url(#cpB)" />
<path d="M1467.2,2514.1 L1471.4,2547.9 L1475.6,2522.5 L1481.3,2516.9 L1486.9,2542.3 L1492.5,2525.4 L1495.4,2502.8 L1499.6,2488.7 L1503.8,2547.9 L1508.0,2508.5 L1512.3,2545.1 L1516.5,2514.1 L1520.7,2542.3 L1524.9,2508.5 L1529.2,2531.0 L1533.4,2505.6 L1537.6,2519.7 L1540.4,2494.4 L1543.5,2483.1 L1547.0,2483.1 L1549.4,2520.7 L1552.9,2490.1 L1555.3,2471.4 L1560.0,2478.4 L1561.1,2454.9 L1565.8,2462.0 L1567.0,2438.5 L1571.7,2443.2 L1571.5,2408.6 L1574.6,2369.2 L1577.9,2310.0 L1579.6,2244.3 L1581.2,2204.9 L1584.5,2188.4 L1587.9,2162.2 L1591.1,2122.7 L1592.8,2089.9 L1594.4,2080.0 L1595.2,2073.5 L1596.3,2050.0 L1597.0,1941.0 L1598.5,1800.0 L1601.5,1700.0 L1602.5,1600.0 L1604.0,1510.0 L1605.0,1355.0 L1606.0,1300.0 L1618.0,1300.0 L1619.0,1355.0 L1620.0,1510.0 L1620.5,1600.0 L1623.1,1664.5 L1625.5,1600.0 L1626.0,1510.0 L1626.5,1355.0 L1627.0,1300.0 L1629.0,1300.0 L1630.5,1355.0 L1632.0,1510.0 L1633.0,1600.0 L1634.0,1760.0 L1635.0,1800.0 L1636.5,2120.0 L1638.8,2178.6 L1640.5,2277.1 L1642.1,2342.8 L1645.4,2375.6 L1647.1,2408.6 L1646.8,2422.1 L1651.5,2433.8 L1650.3,2459.6 L1656.2,2464.3 L1659.7,2445.5 L1664.4,2440.8 L1666.8,2478.4 L1672.6,2440.8 L1676.2,2485.4 L1680.8,2485.4 L1684.4,2459.6 L1686.7,2506.6 L1691.4,2487.8 L1693.8,2520.7 L1698.5,2520.7 L1703.1,2490.1 L1706.7,2513.6 L1711.4,2506.6 L1713.7,2469.0 L1718.4,2452.6 L1719.6,2424.4 L1725.4,2403.3 L1726.6,2452.6 L1730.1,2419.7 L1732.5,2450.2 L1732.5,2478.4 L1738.4,2459.6 L1740.7,2508.9 L1744.2,2516.0 L1747.7,2483.1 L1751.3,2530.0 L1756.0,2504.2 L1760.7,2532.4 L1765.4,2497.2 L1768.9,2532.4 L1771.2,2490.1 L1774.7,2537.1 L1778.3,2511.3" fill="none" stroke="#C45000" stroke-width="9" stroke-linejoin="round" stroke-linecap="round" clip-path="url(#cpB)" />
<path d="M1467.0,2531.7 L1468.3,2514.8 L1469.6,2522.1 L1470.9,2526.1 L1472.2,2524.7 L1473.5,2532.5 L1474.8,2531.2 L1476.1,2532.6 L1477.4,2511.1 L1478.7,2522.6 L1480.0,2523.6 L1481.3,2516.2 L1482.6,2511.8 L1483.9,2532.1 L1485.2,2535.8 L1486.5,2527.6 L1487.8,2514.6 L1489.1,2525.4 L1490.4,2514.5 L1491.7,2529.2 L1493.0,2513.8 L1494.3,2525.9 L1495.6,2533.6 L1496.9,2533.6 L1498.2,2530.0 L1499.5,2539.8 L1500.8,2532.7 L1502.1,2518.9 L1503.4,2528.2 L1504.7,2500.4 L1506.0,2509.8 L1507.3,2518.0 L1508.6,2513.3 L1509.9,2538.7 L1511.2,2503.0 L1512.5,2498.2 L1513.8,2517.7 L1515.1,2541.2 L1516.4,2521.3 L1517.7,2523.8 L1519.0,2519.5 L1520.3,2517.6 L1521.6,2522.1 L1522.9,2511.8 L1524.2,2530.3 L1525.5,2526.1 L1526.8,2509.8 L1528.1,2506.6 L1529.4,2516.4 L1530.7,2511.4 L1532.0,2501.3 L1533.3,2496.3 L1534.6,2515.7 L1535.9,2511.7 L1537.2,2515.1 L1538.5,2499.6 L1539.8,2506.3 L1541.1,2487.9 L1542.4,2478.6 L1543.7,2483.5 L1545.0,2500.0 L1546.3,2491.2 L1547.6,2487.0 L1548.9,2486.2 L1550.2,2487.6 L1551.5,2477.2 L1552.8,2489.5 L1554.1,2463.8 L1555.4,2474.0 L1556.7,2462.6 L1558.0,2449.0 L1559.3,2485.9" fill="none" stroke="#C45000" stroke-width="9" stroke-linejoin="round" stroke-linecap="round" clip-path="url(#cpB)" />
<path d="M1690.0,2503.6 L1691.3,2480.3 L1692.6,2501.2 L1693.9,2487.2 L1695.2,2507.0 L1696.5,2494.0 L1697.8,2512.7 L1699.1,2513.4 L1700.4,2504.5 L1701.7,2520.4 L1703.0,2516.4 L1704.3,2501.7 L1705.6,2509.9 L1706.9,2512.5 L1708.2,2507.7 L1709.5,2513.4 L1710.8,2471.0 L1712.1,2495.6 L1713.4,2439.8 L1714.7,2484.5 L1716.0,2444.9 L1717.3,2473.8 L1718.6,2441.9 L1719.9,2478.5 L1721.2,2453.5 L1722.5,2444.0 L1723.8,2442.1 L1725.1,2457.5 L1726.4,2446.1 L1727.7,2460.9 L1729.0,2435.9 L1730.3,2438.6 L1731.6,2473.3 L1732.9,2458.5 L1734.2,2446.0 L1735.5,2439.6 L1736.8,2438.9 L1738.1,2453.3 L1739.4,2461.7 L1740.7,2489.0 L1742.0,2499.4 L1743.3,2497.9 L1744.6,2486.9 L1745.9,2478.8 L1747.2,2507.2 L1748.5,2506.5 L1749.8,2511.8 L1751.1,2504.0 L1752.4,2511.4 L1753.7,2498.8 L1755.0,2508.2 L1756.3,2523.8 L1757.6,2524.6 L1758.9,2514.3 L1760.2,2515.5 L1761.5,2527.0 L1762.8,2528.5 L1764.1,2538.4 L1765.4,2513.6 L1766.7,2509.9 L1768.0,2504.7 L1769.3,2521.8 L1770.6,2508.7 L1771.9,2531.5 L1773.2,2533.5 L1774.5,2519.5 L1775.8,2521.3 L1777.1,2506.5" fill="none" stroke="#C45000" stroke-width="9" stroke-linejoin="round" stroke-linecap="round" clip-path="url(#cpB)" />
<path d="M137.0,2242.3 L141.3,2250.7 L145.5,2278.9 L149.7,2281.7 L152.5,2301.4 L156.8,2321.1 L162.4,2332.4 L169.4,2349.3 L172.3,2356.3 L179.3,2354.9 L184.9,2335.2 L190.6,2340.8 L194.8,2357.7 L199.0,2366.2 L201.8,2394.4 L206.1,2385.9 L208.9,2402.8 L213.1,2425.4 L217.3,2431.0 L221.5,2408.5 L227.2,2409.9 L231.4,2425.4 L235.6,2439.4 L241.3,2442.3 L244.1,2425.4 L246.1,2250.7 L248.3,2284.5 L249.7,2369.0 L251.1,2447.9 L253.9,2397.2 L258.2,2408.5 L262.4,2405.6 L269.4,2408.5 L273.7,2414.1 L276.5,2397.2 L280.7,2385.9 L284.9,2385.9 L287.7,2363.4 L292.0,2359.2 L296.2,2369.0 L300.4,2352.1 L304.6,2329.6 L306.1,2312.7 L310.3,2323.9 L313.1,2287.3 L315.9,2281.7 L318.7,2270.4 L324.4,2264.8 L327.2,2242.3 L330.0,2228.2 L332.8,2205.0 L339.9,2162.0 L344.1,2125.4 L348.3,2074.6 L352.5,2026.8 L356.8,1984.5 L359.6,1950.7 L362.0,1942.0 L364.0,1940.0 L366.0,1946.0 L368.0,1956.3 L372.3,1976.0 L375.1,1998.6 L377.9,2040.8 L380.7,2080.3 L383.5,2125.4 L387.7,2167.6 L390.6,2222.5 L396.2,2239.4 L400.4,2250.7 L404.6,2254.9 L408.9,2216.9 L414.5,2236.6 L418.7,2214.1 L422.8,2186.3 L425.0,2167.0 L427.5,2162.0 L431.3,2175.1 L436.9,2183.5 L441.1,2203.2 L443.9,2228.6 L446.8,2273.7 L451.0,2276.5 L453.8,2299.0 L456.6,2321.5 L460.8,2332.8 L466.5,2330.0 L470.7,2327.2 L473.5,2349.7 L476.3,2372.3 L480.6,2377.9 L483.4,2392.0 L487.6,2372.3 L491.8,2394.8 L494.6,2414.5 L498.9,2408.9 L504.5,2425.8 L510.1,2406.1 L514.4,2403.2 L518.6,2417.3 L522.8,2394.8 L527.0,2420.1 L531.3,2392.0 L535.5,2408.9 L541.1,2386.3 L545.4,2397.6 L548.2,2355.4 L552.4,2363.8 L556.6,2324.4 L560.8,2338.5 L565.1,2361.0 L569.3,2307.5 L573.5,2327.2 L576.3,2299.0 L579.2,2242.7 L583.4,2225.0 L587.6,2242.7 L593.2,2248.3 L597.5,2276.5 L603.1,2262.4 L605.9,2287.7 L611.5,2279.3 L617.2,2248.3 L620.0,2200.4 L622.8,2188.0 L627.0,2237.0 L631.3,2242.7 L636.9,2270.8 L639.7,2299.0 L643.9,2327.2 L646.8,2346.9 L649.6,2335.6 L653.8,2361.0 L659.4,2352.5 L665.1,2366.6 L672.1,2338.5 L676.3,2361.0 L680.6,2383.5 L684.8,2352.5 L689.0,2383.5 L693.2,2366.6 L700.0,2388.0 L704.2,2343.0 L708.5,2385.2 L714.1,2348.6 L719.7,2351.4 L723.9,2373.9 L729.6,2359.9 L732.4,2343.0 L736.6,2382.4 L742.3,2359.9 L746.5,2379.6 L752.1,2331.7 L757.7,2334.5 L763.4,2345.8 L769.0,2306.3 L774.6,2323.2 L778.9,2306.3 L784.5,2300.0 L790.1,2244.8 L793.0,2205.4 L794.4,2163.1 L798.6,2140.6 L801.4,2106.8 L804.2,2050.4 L807.0,2002.5 L810.5,1930.0 L814.8,1840.0 L818.2,1680.0 L819.5,1580.0 L821.5,1510.0 L823.3,1499.0 L825.0,1510.0 L826.5,1580.0 L827.1,1680.0 L829.0,1840.0 L830.1,1980.0 L832.4,2036.3 L833.8,2106.8 L836.6,2177.2 L839.4,2219.4 L843.7,2256.1 L846.5,2267.3 L850.7,2258.9 L854.9,2264.5 L860.6,2261.7 L866.2,2273.0 L873.2,2264.5 L878.9,2247.6 L883.1,2253.2 L887.3,2273.0 L893.0,2267.3 L900.0,2246.2 L904.2,2267.3 L908.5,2258.9 L912.7,2242.0 L918.3,2230.7 L922.5,2227.9 L926.8,2275.8 L931.0,2233.5 L935.2,2213.8 L939.4,2236.3 L943.7,2213.8 L947.9,2227.9 L952.1,2182.8 L954.9,2202.5 L957.7,2244.8 L962.0,2256.1 L967.6,2216.6 L973.2,2270.1 L978.9,2208.2 L984.5,2239.2 L987.3,2205.4 L990.0,2205.4 L994.2,2174.4 L999.9,2191.3 L1004.1,2149.0 L1009.7,2123.7 L1015.4,2134.9 L1021.0,2171.5 L1026.6,2118.0 L1030.8,2129.3 L1033.7,2154.6 L1037.9,2115.2 L1042.1,2118.0 L1047.7,2109.6 L1052.0,2132.1 L1057.6,2137.7 L1061.8,2143.4 L1064.6,2202.5 L1068.9,2199.7 L1074.5,2211.0 L1078.7,2151.8 L1083.0,2194.1 L1088.6,2216.6 L1094.2,2227.9 L1098.5,2194.1 L1104.1,2211.0 L1108.3,2163.1 L1112.5,2143.4 L1115.4,2078.6 L1118.2,2036.3 L1119.5,2040.0 L1121.0,2000.0 L1123.0,1985.0 L1124.6,1982.5 L1126.5,1986.0 L1128.0,2022.3 L1128.0,2040.0 L1130.8,2087.0 L1135.1,2092.7 L1137.9,2126.5 L1142.1,2168.7 L1146.3,2149.0 L1150.6,2092.7 L1153.5,2045.0 L1155.6,2035.5 L1158.0,2040.0 L1160.4,2047.6 L1164.6,2058.9 L1168.9,2084.2 L1171.7,2120.8 L1174.5,2160.3 L1178.7,2171.5 L1183.0,2185.6 L1187.2,2219.4 L1191.4,2239.2 L1197.0,2191.3 L1202.7,2219.4 L1206.9,2199.7 L1211.1,2227.9 L1215.4,2202.5 L1219.6,2233.5 L1223.8,2261.7 L1229.4,2275.8 L1235.1,2256.1 L1240.7,2270.1 L1244.9,2250.4 L1250.6,2261.7 L1256.2,2239.2 L1260.4,2256.1 L1266.1,2230.7 L1270.3,2261.7 L1274.2,2291.5 L1278.5,2252.1 L1281.3,2207.0 L1285.5,2221.1 L1288.3,2266.2 L1292.5,2249.3 L1296.8,2271.8 L1301.0,2246.5 L1306.6,2260.6 L1310.8,2252.1 L1312.3,2308.5 L1317.9,2260.6 L1322.1,2269.0 L1326.3,2300.0 L1330.6,2297.2 L1334.8,2283.1 L1341.8,2336.6 L1346.1,2277.5 L1351.7,2316.9 L1360.1,2285.9 L1367.2,2314.1 L1371.4,2294.4 L1375.6,2319.7 L1382.7,2316.9 L1384.1,2350.7 L1389.7,2314.1 L1393.9,2342.3 L1398.2,2347.9 L1402.4,2280.3 L1406.6,2345.1 L1412.3,2331.0 L1415.1,2384.5 L1419.3,2359.2 L1423.5,2319.7 L1427.7,2314.1 L1432.0,2314.1 L1434.8,2364.8" fill="none" stroke="#510098" stroke-width="9" stroke-linejoin="round" stroke-linecap="round" clip-path="url(#cpB)" />
<path d="M1467.2,2285.9 L1468.6,2345.1 L1471.4,2266.2 L1474.2,2339.4 L1478.5,2274.6 L1481.3,2322.5 L1484.1,2266.2 L1486.9,2328.2 L1491.1,2260.6 L1495.4,2308.5 L1499.6,2240.8 L1503.8,2238.0 L1506.6,2311.3 L1510.8,2249.3 L1516.5,2311.3 L1520.7,2249.3 L1524.9,2294.4 L1529.2,2229.6 L1533.4,2311.3 L1536.2,2229.6 L1540.4,2311.3 L1544.6,2193.0 L1547.5,2297.2 L1550.6,2237.8 L1554.1,2176.8 L1558.8,2247.2 L1561.1,2181.5 L1565.8,2237.8 L1567.0,2160.3 L1571.7,2233.1 L1574.0,2120.4 L1577.6,2226.1 L1577.6,2094.6 L1581.1,2115.7 L1581.1,2050.0 L1581.1,1971.0 L1588.1,1999.5 L1592.8,1945.5 L1596.3,1941.0 L1598.7,1800.0 L1600.2,1760.0 L1602.5,1600.0 L1604.0,1510.0 L1605.0,1355.0 L1606.0,1300.0 L1633.0,1300.0 L1634.8,1355.0 L1636.6,1510.0 L1637.4,1600.0 L1638.0,1760.0 L1641.0,1800.0 L1643.3,2050.0 L1645.6,2096.9 L1648.0,2188.5 L1652.7,2120.4 L1655.0,2195.5 L1658.5,2125.1 L1663.2,2226.1 L1667.9,2132.2 L1671.5,2085.2 L1675.0,2197.9 L1679.7,2118.1 L1682.0,2195.5 L1687.9,2132.2 L1689.1,2226.1 L1693.8,2190.8 L1698.5,2150.9 L1702.0,2209.6 L1707.8,2237.8 L1710.2,2158.0 L1717.2,2129.8 L1718.4,2214.3 L1725.4,2153.3 L1726.6,2235.4 L1727.8,2304.7 L1732.5,2186.2 L1733.7,2296.5 L1740.7,2223.7 L1744.2,2316.4 L1746.6,2296.5 L1748.9,2219.0 L1752.4,2291.8 L1758.3,2339.9 L1759.5,2240.1 L1765.4,2284.7 L1768.9,2304.7 L1771.2,2209.6 L1774.7,2291.8 L1778.3,2219.0" fill="none" stroke="#510098" stroke-width="9" stroke-linejoin="round" stroke-linecap="round" clip-path="url(#cpB)" />
<path d="M1467.0,2293.3 L1468.3,2324.1 L1469.6,2318.0 L1470.9,2270.5 L1472.2,2274.7 L1473.5,2323.0 L1474.8,2279.3 L1476.1,2320.4 L1477.4,2302.5 L1478.7,2284.1 L1480.0,2274.9 L1481.3,2286.4 L1482.6,2295.5 L1483.9,2288.9 L1485.2,2291.8 L1486.5,2294.5 L1487.8,2318.6 L1489.1,2290.2 L1490.4,2277.2 L1491.7,2297.5 L1493.0,2271.5 L1494.3,2268.4 L1495.6,2272.7 L1496.9,2237.7 L1498.2,2231.9 L1499.5,2261.5 L1500.8,2258.5 L1502.1,2277.1 L1503.4,2267.8 L1504.7,2261.4 L1506.0,2278.7 L1507.3,2233.0 L1508.6,2217.8 L1509.9,2231.5 L1511.2,2260.9 L1512.5,2231.3 L1513.8,2265.4 L1515.1,2247.2 L1516.4,2269.5 L1517.7,2228.2 L1519.0,2259.7 L1520.3,2316.4 L1521.6,2272.4 L1522.9,2270.8 L1524.2,2258.0 L1525.5,2285.7 L1526.8,2268.2 L1528.1,2297.0 L1529.4,2294.9 L1530.7,2275.6 L1532.0,2239.5 L1533.3,2256.2 L1534.6,2241.8 L1535.9,2285.0 L1537.2,2254.0 L1538.5,2242.1 L1539.8,2262.4 L1541.1,2223.8 L1542.4,2273.0 L1543.7,2245.5 L1545.0,2250.8 L1546.3,2253.4 L1547.6,2247.1 L1548.9,2207.3 L1550.2,2229.2 L1551.5,2216.7 L1552.8,2230.4 L1554.1,2204.5 L1555.4,2247.7 L1556.7,2195.7 L1558.0,2245.1 L1559.3,2221.2 L1560.6,2266.6 L1561.9,2218.7 L1563.2,2181.4 L1564.5,2232.8 L1565.8,2218.2 L1567.1,2214.8 L1568.4,2169.8 L1569.7,2112.1 L1571.0,2118.5" fill="none" stroke="#510098" stroke-width="9" stroke-linejoin="round" stroke-linecap="round" clip-path="url(#cpB)" />
<path d="M1652.0,2073.4 L1653.3,2222.3 L1654.6,2090.1 L1655.9,2154.4 L1657.2,2161.6 L1658.5,2119.8 L1659.8,2127.1 L1661.1,2151.0 L1662.4,2099.0 L1663.7,2130.4 L1665.0,2110.3 L1666.3,2108.8 L1667.6,2105.5 L1668.9,2140.7 L1670.2,2158.8 L1671.5,2125.7 L1672.8,2144.1 L1674.1,2139.9 L1675.4,2172.2 L1676.7,2175.7 L1678.0,2167.0 L1679.3,2102.6 L1680.6,2152.0 L1681.9,2145.6 L1683.2,2148.3 L1684.5,2162.8 L1685.8,2183.9 L1687.1,2183.8 L1688.4,2200.5 L1689.7,2187.6 L1691.0,2197.9 L1692.3,2172.5 L1693.6,2166.6 L1694.9,2185.7 L1696.2,2174.7 L1697.5,2182.7 L1698.8,2188.4 L1700.1,2204.0 L1701.4,2212.9 L1702.7,2176.6 L1704.0,2201.6 L1705.3,2203.8 L1706.6,2219.6 L1707.9,2159.9 L1709.2,2176.0 L1710.5,2183.9 L1711.8,2175.1 L1713.1,2196.2 L1714.4,2207.7 L1715.7,2192.8 L1717.0,2209.6 L1718.3,2215.2 L1719.6,2205.8 L1720.9,2233.4 L1722.2,2174.6 L1723.5,2213.2 L1724.8,2173.6 L1726.1,2225.3 L1727.4,2215.2 L1728.7,2185.1 L1730.0,2196.4 L1731.3,2190.1 L1732.6,2223.3 L1733.9,2256.9 L1735.2,2234.4 L1736.5,2196.7 L1737.8,2254.8 L1739.1,2247.7 L1740.4,2273.4 L1741.7,2327.6 L1743.0,2300.8 L1744.3,2305.9 L1745.6,2294.5 L1746.9,2273.8 L1748.2,2265.5 L1749.5,2268.0 L1750.8,2279.8 L1752.1,2265.5 L1753.4,2286.7 L1754.7,2320.5 L1756.0,2308.6 L1757.3,2278.3 L1758.6,2274.3 L1759.9,2308.6 L1761.2,2322.5 L1762.5,2296.5 L1763.8,2275.7 L1765.1,2284.6 L1766.4,2263.5 L1767.7,2279.8 L1769.0,2314.0 L1770.3,2262.4 L1771.6,2280.3 L1772.9,2270.3 L1774.2,2317.4 L1775.5,2294.1 L1776.8,2280.5" fill="none" stroke="#510098" stroke-width="9" stroke-linejoin="round" stroke-linecap="round" clip-path="url(#cpB)" />
<circle cx="165.3" cy="2332.6" r="13" fill="#000"/>
<line x1="361.2" y1="521.8" x2="361.2" y2="2573.5" stroke="#000" stroke-width="3.2" />
<line x1="586.8" y1="969.2" x2="586.8" y2="2573.5" stroke="#000" stroke-width="2.6" />
<line x1="621.1" y1="879.0" x2="621.1" y2="2573.5" stroke="#000" stroke-width="3.2" />
<line x1="668.3" y1="1074.0" x2="668.3" y2="1351.0" stroke="#000" stroke-width="1.6" />
<line x1="731.8" y1="1118.0" x2="731.8" y2="1351.0" stroke="#000" stroke-width="1.6" />
<line x1="1009.4" y1="1050.7" x2="1009.4" y2="2568.7" stroke="#000" stroke-width="2.6" />
<line x1="1124.7" y1="800.4" x2="1124.7" y2="2573.5" stroke="#000" stroke-width="1.6" />
<line x1="185.0" y1="2052.1" x2="185.0" y2="2318.0" stroke="#000" stroke-width="2.8" stroke-dasharray="14.5 13.6"/>
<line x1="428.7" y1="2574.4" x2="428.7" y2="2174.2" stroke="#000" stroke-width="2.8" stroke-dasharray="14.5 13.6"/>
<line x1="820.2" y1="2574.4" x2="823.0" y2="1511.0" stroke="#000" stroke-width="2.8" stroke-dasharray="14.5 13.6"/>
<line x1="1047.7" y1="2574.4" x2="1047.7" y2="2125.0" stroke="#000" stroke-width="2.8" stroke-dasharray="14.5 13.6"/>
<line x1="1159.0" y1="2574.4" x2="1159.0" y2="2061.7" stroke="#000" stroke-width="2.8" stroke-dasharray="14.5 13.6"/>
<line x1="1200.7" y1="2574.4" x2="1200.7" y2="2204.0" stroke="#000" stroke-width="2.8" stroke-dasharray="14.5 13.6"/>
<line x1="1278.7" y1="2574.4" x2="1278.7" y2="2256.0" stroke="#000" stroke-width="2.8" stroke-dasharray="14.5 13.6"/>
<rect x="135" y="128" width="247.8" height="115.9" fill="#fff" stroke="#000" stroke-width="1.6"/>
<rect x="135" y="1353" width="273.2" height="115.59999999999991" fill="#fff" stroke="#000" stroke-width="1.6"/>
<line x1="135.0" y1="128.0" x2="135.0" y2="244.0" stroke="#000" stroke-width="4" />
<line x1="135.0" y1="1353.0" x2="135.0" y2="1469.0" stroke="#000" stroke-width="4" />
<line x1="143.8" y1="160.1" x2="239.8" y2="160.1" stroke="#FFBA8C" stroke-width="9" stroke-linecap="round"/>
<line x1="143.8" y1="213.8" x2="239.8" y2="213.8" stroke="#CE72FF" stroke-width="9" stroke-linecap="round"/>
<text x="252.0" y="175.1" font-size="43.6" text-anchor="start" font-weight="normal" fill="#000" font-family="'Liberation Sans', Arial, sans-serif" >0E</text>
<text x="252.0" y="228.9" font-size="43.6" text-anchor="start" font-weight="normal" fill="#000" font-family="'Liberation Sans', Arial, sans-serif" >0E-Co</text>
<line x1="143.8" y1="1385.0" x2="240.5" y2="1385.0" stroke="#C45000" stroke-width="9" stroke-linecap="round"/>
<line x1="143.8" y1="1438.6" x2="240.5" y2="1438.6" stroke="#510098" stroke-width="9" stroke-linecap="round"/>
<text x="253.0" y="1400.5" font-size="44.5" text-anchor="start" font-weight="normal" fill="#000" font-family="'Liberation Sans', Arial, sans-serif" >15E</text>
<text x="253.0" y="1453.2" font-size="44.5" text-anchor="start" font-weight="normal" fill="#000" font-family="'Liberation Sans', Arial, sans-serif" >15E-Co</text>
<text x="266.0" y="487.6" font-size="45.5" font-weight="bold" fill="#000" font-family="'Liberation Sans', Arial, sans-serif" >Si-O ring breathing</text>
<text x="463.0" y="916.3" font-size="46" font-weight="bold" fill="#000" font-family="'Liberation Sans', Arial, sans-serif" ><tspan font-family="'Liberation Serif', 'DejaVu Serif', serif" font-weight="normal" font-size="46">ρ</tspan><tspan x="497.5">CH</tspan><tspan font-size="30" dy="12">3</tspan></text>
<text x="608.0" y="851.6" font-size="45" font-weight="bold" fill="#000" font-family="'Liberation Sans', Arial, sans-serif" ><tspan font-family="'Liberation Serif', 'DejaVu Serif', serif" font-weight="normal" font-size="46">ν</tspan><tspan font-size="30" dy="11">s</tspan><tspan x="649.5" dy="-11">Si-O-Si</tspan></text>
<text x="657.0" y="1034.2" font-size="44.5" font-weight="bold" fill="#000" font-family="'Liberation Sans', Arial, sans-serif" ><tspan font-family="'Liberation Serif', 'DejaVu Serif', serif" font-weight="normal" font-size="45">ρ</tspan><tspan x="692.5">Si-C</tspan></text>
<text x="730.0" y="1092.5" font-size="44.5" font-weight="bold" fill="#000" font-family="'Liberation Sans', Arial, sans-serif" ><tspan font-family="'Liberation Serif', 'DejaVu Serif', serif" font-weight="normal" font-size="45">ν</tspan><tspan font-size="29" dy="12">s</tspan><tspan x="784" dy="-12">Si-OH</tspan></text>
<text x="901.5" y="1007.9" font-size="44.5" font-weight="bold" fill="#000" font-family="'Liberation Sans', Arial, sans-serif" ><tspan font-family="'Liberation Serif', 'DejaVu Serif', serif" font-weight="normal" font-size="45">δ</tspan><tspan font-size="29" dy="12">s</tspan><tspan x="953.5" dy="-12">CH</tspan><tspan font-size="29" dy="12">3</tspan><tspan dy="-12">-Si</tspan></text>
<text x="1075.0" y="766.5" font-size="44.5" font-weight="bold" fill="#000" font-family="'Liberation Sans', Arial, sans-serif" ><tspan font-family="'Liberation Serif', 'DejaVu Serif', serif" font-weight="normal" font-size="45">δ</tspan><tspan font-size="29" dy="12">as</tspan><tspan x="1146" dy="-12">CH</tspan><tspan font-size="29" dy="12">3</tspan></text>
<text x="0.0" y="0.0" font-size="46" font-weight="bold" fill="#000" font-family="'Liberation Sans', Arial, sans-serif" transform="translate(1561.5 370) rotate(-90)"><tspan font-family="'Liberation Serif', 'DejaVu Serif', serif" font-weight="normal" font-size="46">ν</tspan><tspan font-size="30" dy="12">s</tspan><tspan dy="-12">CH</tspan><tspan font-size="30" dy="12">3</tspan><tspan dy="-12">, CH</tspan><tspan font-size="30" dy="12">2</tspan></text>
<text x="0.0" y="0.0" font-size="46" font-weight="bold" fill="#000" font-family="'Liberation Sans', Arial, sans-serif" transform="translate(1742 1082) rotate(-90)"><tspan font-family="'Liberation Serif', 'DejaVu Serif', serif" font-weight="normal" font-size="46">ν</tspan><tspan font-size="30" dy="12">as</tspan><tspan dy="-12">CH</tspan><tspan font-size="30" dy="12">3</tspan><tspan dy="-12">, CH</tspan><tspan font-size="30" dy="12">2</tspan></text>
<text x="154.0" y="1933.3" font-size="51" font-weight="bold" fill="#520099" font-family="'Liberation Sans', Arial, sans-serif" >chelate</text>
<text x="154.0" y="2020.5" font-size="51" font-weight="bold" fill="#520099" font-family="'Liberation Sans', Arial, sans-serif" >ring</text>
<text x="411.5" y="2149.3" font-size="52" font-weight="bold" fill="#520099" font-family="'Liberation Sans', Arial, sans-serif" >Co-N</text>
<text x="816.0" y="1480.1" font-size="52" font-weight="bold" fill="#520099" font-family="'Liberation Sans', Arial, sans-serif" >C-N, en</text>
<text x="1021.0" y="2083.4" font-size="46" font-weight="bold" fill="#CC5806" font-family="'Liberation Sans', Arial, sans-serif" >CH<tspan font-size="30" dy="12.4">2</tspan></text>
<text x="1169.0" y="2030.9" font-size="46" font-weight="bold" fill="#CC5806" font-family="'Liberation Sans', Arial, sans-serif" >Si-CH<tspan font-size="30" dy="12">2</tspan></text>
<rect x="1227.6" y="2035.8" width="65.4" height="4.5" fill="#CC5806"/>
<text x="1202.0" y="2126.6" font-size="51" font-weight="bold" fill="#CC5806" font-family="'Liberation Sans', Arial, sans-serif" ><tspan font-family="'Liberation Serif', 'DejaVu Serif', serif" font-weight="normal" font-size="51">δ</tspan><tspan x="1241">NH</tspan><tspan font-size="33" dy="13">2</tspan></text>
<text x="1292.5" y="2197.1" font-size="51" font-weight="bold" fill="#CC5806" font-family="'Liberation Sans', Arial, sans-serif" ><tspan font-family="'Liberation Serif', 'DejaVu Serif', serif" font-weight="normal" font-size="51">δ</tspan><tspan x="1332">NH</tspan><tspan font-size="33" dy="13">2</tspan></text>
<text x="0.0" y="0.0" font-size="76" text-anchor="start" font-weight="normal" fill="#000" font-family="'Liberation Sans', Arial, sans-serif" transform="translate(90.5 1529) rotate(-90) scale(1.0234 1)">Intensity (a.u.)</text>
<text font-size="61.3" font-family="'Liberation Sans', Arial, sans-serif" transform="translate(637 2729.8) scale(1.254 1)">Raman shift (cm<tspan font-size="42" dy="-26">−1</tspan><tspan dy="26">)</tspan></text>
<text x="809.0" y="2839.0" font-size="85" text-anchor="start" font-weight="normal" fill="#000" font-family="'Liberation Serif', 'Times New Roman', serif" >(a)</text>
<g clip-path="url(#cpP)" fill="none" stroke-width="7" stroke-linejoin="round" stroke-linecap="round">
<path d="M246.2,3995.5 L253.9,3992.4 L263.2,3989.3 L274.1,3987.8 L286.5,3983.7 L297.3,3982.5 L309.7,3979.1 L320.6,3976.9 L333.0,3972.3 L345.4,3967.6 L354.7,3966.1 L364.0,3963.6 L374.8,3959.0 L385.6,3956.8 L394.9,3953.7 L407.3,3948.1 L416.6,3944.4 L425.9,3942.2 L433.7,3938.2 L443.0,3932.9 L453.8,3928.9 L463.1,3923.3 L474.0,3916.5 L483.3,3911.8 L492.6,3905.6 L501.9,3897.9 L511.2,3890.2 L520.4,3882.4 L529.7,3871.0 L540.6,3859.0 L549.9,3847.0 L559.2,3831.5 L568.5,3817.0 L572.4,3813.5 L581.7,3795.0 L591.0,3773.2 L600.3,3748.5 L608.0,3723.7 L615.8,3695.8 L623.5,3667.9 L629.7,3643.1 L634.4,3624.4 L643.7,3591.8 L653.0,3560.9 L662.3,3537.6 L671.6,3512.8 L679.3,3503.5 L690.2,3497.3 L701.0,3502.0 L711.8,3515.9 L719.6,3536.1 L727.3,3567.1 L735.1,3599.6 L741.3,3630.6 L745.0,3650.0 L747.5,3671.0 L755.2,3705.1 L764.5,3742.3 L773.8,3776.3 L783.1,3807.3 L792.4,3836.8 L801.7,3860.0 L812.6,3883.3 L823.4,3903.4 L835.8,3920.4 L851.3,3937.5 L866.8,3949.9 L885.4,3965.4 L890.8,3971.3 L903.2,3978.4 L917.2,3986.8 L929.6,3991.4 L943.5,3998.2 L955.9,4002.3 L968.3,4008.5 L982.3,4012.5 L994.7,4013.7 L1007.1,4018.7 L1019.4,4020.9 L1031.8,4022.4 L1044.2,4026.1 L1056.6,4028.6 L1070.6,4031.7 L1083.0,4030.5 L1096.9,4031.1 L1110.9,4031.1 L1124.8,4031.7 L1138.8,4034.8 L1151.2,4037.9 L1163.5,4040.4 L1175.9,4042.6 L1190.0,4046.8 L1201.8,4049.7 L1213.7,4051.7 L1225.5,4054.3 L1241.3,4053.7 L1257.0,4054.7 L1272.8,4057.2 L1288.6,4057.8 L1308.3,4057.6 L1328.0,4056.2 L1347.8,4057.0 L1367.5,4056.6 L1383.3,4054.3 L1398.8,4052.3 L1413.8,4050.4 L1427.0,4047.6 L1440.1,4044.8 L1453.2,4042.0 L1464.5,4042.0 L1479.5,4043.8 L1492.7,4047.6 L1507.7,4051.4 L1522.7,4055.1 L1534.0,4053.2" stroke="#00F500"/>
<path d="M246.2,3920.5 L253.9,3917.4 L263.2,3914.9 L272.5,3914.0 L281.8,3911.2 L291.1,3908.1 L300.4,3906.6 L311.3,3903.5 L322.1,3901.0 L333.0,3897.0 L345.4,3893.2 L356.2,3891.7 L365.5,3889.5 L373.3,3885.5 L384.1,3882.2 L394.9,3879.0 L402.7,3876.4 L416.6,3870.2 L425.9,3868.3 L436.8,3861.0 L446.1,3858.0 L461.6,3848.3 L472.4,3843.3 L481.7,3839.0 L492.6,3834.7 L501.9,3826.5 L511.2,3816.2 L522.0,3808.4 L532.8,3796.0 L542.1,3784.8 L549.9,3775.5 L559.2,3761.5 L568.5,3745.0 L573.9,3733.0 L581.7,3714.4 L591.0,3694.2 L598.7,3675.6 L604.9,3657.0 L609.6,3640.0 L614.2,3627.5 L623.5,3593.4 L632.8,3559.3 L640.6,3528.3 L648.3,3500.4 L656.1,3478.7 L665.4,3460.2 L673.1,3446.2 L680.9,3440.0 L693.2,3441.6 L701.0,3446.2 L708.7,3458.6 L716.5,3475.6 L724.2,3498.9 L732.0,3528.3 L738.2,3557.8 L744.4,3590.3 L750.6,3621.3 L754.0,3640.0 L758.3,3667.9 L766.1,3698.9 L775.4,3729.9 L784.7,3757.8 L795.5,3787.2 L804.8,3808.9 L814.1,3827.5 L825.0,3847.6 L835.8,3861.6 L849.7,3878.6 L865.2,3891.0 L879.2,3900.3 L890.8,3910.9 L901.7,3918.6 L912.5,3923.9 L923.4,3929.4 L934.2,3933.2 L946.6,3940.3 L959.0,3942.5 L969.9,3947.4 L980.7,3950.5 L991.6,3951.1 L1002.4,3954.2 L1013.2,3957.3 L1024.1,3960.4 L1036.5,3962.3 L1048.9,3965.4 L1059.7,3967.3 L1070.6,3969.1 L1081.4,3967.9 L1090.7,3968.5 L1100.0,3966.6 L1107.8,3965.1 L1117.1,3967.3 L1124.8,3967.9 L1134.1,3970.4 L1145.0,3972.8 L1154.2,3975.3 L1163.5,3976.6 L1174.4,3979.0 L1185.2,3982.1 L1194.5,3984.6 L1205.8,3982.7 L1217.6,3987.6 L1237.3,3986.6 L1253.1,3989.6 L1272.8,3990.6 L1294.5,3992.5 L1312.3,3991.9 L1332.0,3989.6 L1353.7,3992.5 L1383.3,3991.2 L1393.1,3985.2 L1404.3,3985.8 L1412.3,3988.0 L1420.3,3983.5 L1433.1,3981.0 L1445.8,3979.4 L1458.6,3977.8 L1471.4,3980.3 L1484.2,3982.6 L1496.9,3983.5 L1509.7,3985.8 L1522.5,3988.9 L1532.0,3987.4 L1536.8,3987.4" stroke="#0000F0"/>
<path d="M247.7,3718.9 L255.5,3715.8 L264.8,3711.8 L272.5,3711.8 L280.3,3709.6 L288.0,3706.5 L294.2,3708.7 L302.0,3704.9 L311.3,3701.8 L322.1,3699.7 L329.9,3695.0 L337.6,3697.2 L346.9,3691.0 L356.2,3688.8 L365.5,3689.4 L373.3,3683.9 L382.5,3680.8 L390.3,3677.1 L399.6,3675.5 L407.3,3672.4 L416.6,3666.2 L425.9,3667.8 L435.2,3660.0 L441.4,3658.5 L450.7,3660.9 L461.6,3652.3 L472.4,3648.5 L480.2,3644.5 L491.0,3636.1 L501.9,3631.2 L511.2,3626.9 L520.4,3623.8 L526.6,3616.6 L532.8,3608.9 L542.1,3601.1 L549.9,3594.0 L557.6,3587.2 L565.4,3581.0 L569.3,3577.9 L578.6,3567.1 L587.9,3554.7 L595.6,3542.3 L601.8,3533.0 L609.6,3518.4 L617.3,3503.5 L625.1,3488.0 L631.3,3472.5 L637.5,3455.5 L645.2,3432.3 L653.0,3421.4 L660.7,3409.0 L666.9,3398.2 L674.7,3388.9 L682.4,3384.2 L693.2,3381.1 L704.1,3385.2 L711.8,3393.5 L719.6,3405.9 L727.3,3423.0 L735.1,3441.6 L742.8,3463.3 L749.0,3488.0 L755.2,3505.1 L763.0,3520.6 L770.7,3539.2 L778.5,3556.2 L787.8,3571.7 L797.1,3585.7 L804.8,3596.5 L812.6,3608.9 L820.3,3618.2 L829.6,3625.9 L837.3,3625.9 L845.1,3630.6 L854.4,3635.2 L866.8,3631.2 L876.1,3633.7 L882.0,3632.0 L889.3,3628.3 L898.6,3622.1 L907.9,3615.9 L917.2,3606.6 L924.9,3595.8 L934.2,3588.0 L945.1,3583.4 L952.8,3574.1 L960.6,3561.7 L969.9,3554.9 L979.2,3559.2 L986.9,3561.7 L996.2,3556.1 L1008.6,3553.0 L1017.9,3557.0 L1028.7,3561.1 L1039.6,3563.2 L1047.3,3569.4 L1056.6,3579.7 L1067.5,3586.5 L1075.2,3588.0 L1083.0,3587.1 L1090.7,3596.4 L1098.5,3602.0 L1109.3,3607.6 L1118.6,3614.4 L1129.5,3619.0 L1135.7,3624.3 L1143.4,3628.3 L1152.7,3636.1 L1163.5,3648.5 L1172.8,3654.0 L1182.1,3661.5 L1189.9,3670.2 L1197.6,3678.8 L1205.4,3683.2 L1210.0,3687.0 L1217.6,3695.0 L1225.5,3705.0 L1238.3,3713.4 L1251.1,3723.9 L1262.3,3729.4 L1276.6,3741.5 L1289.4,3749.5 L1300.6,3752.7 L1310.2,3760.7 L1318.1,3767.0 L1327.7,3766.4 L1337.3,3773.4 L1350.1,3785.6 L1361.2,3790.0 L1374.0,3799.0 L1385.2,3801.5 L1394.8,3805.4 L1404.3,3815.6 L1413.9,3820.7 L1426.7,3825.2 L1439.5,3829.3 L1452.2,3833.5 L1461.8,3842.1 L1471.4,3851.7 L1481.0,3853.3 L1490.5,3859.6 L1501.7,3864.4 L1511.3,3870.8 L1522.5,3878.8 L1528.9,3875.6 L1535.2,3874.0" stroke="#00FFFF"/>
<path d="M247.7,3618.2 L253.9,3615.1 L258.6,3612.0 L266.3,3610.4 L272.5,3612.0 L280.3,3607.3 L286.5,3602.1 L292.7,3608.3 L298.9,3605.8 L306.6,3605.8 L312.8,3608.9 L322.1,3605.8 L331.4,3591.8 L343.0,3581.0 L350.8,3578.0 L358.5,3572.3 L366.3,3569.6 L374.0,3564.7 L381.8,3566.4 L388.0,3563.7 L396.5,3559.3 L402.7,3556.8 L410.4,3550.0 L416.6,3543.8 L422.8,3548.1 L427.5,3549.0 L435.2,3539.7 L443.0,3532.0 L449.2,3530.4 L456.9,3524.2 L466.2,3519.6 L477.1,3527.3 L486.4,3525.2 L492.6,3513.4 L497.2,3503.5 L503.4,3497.9 L511.2,3494.2 L518.9,3499.5 L525.1,3494.8 L532.8,3484.0 L539.0,3480.9 L548.3,3472.5 L556.1,3454.5 L563.8,3450.8 L567.7,3447.1 L575.5,3435.4 L583.2,3423.0 L591.0,3409.0 L598.7,3396.6 L604.9,3381.1 L612.7,3368.7 L620.4,3357.9 L626.6,3353.2 L631.3,3340.8 L634.4,3325.0 L643.7,3292.7 L649.9,3289.0 L656.1,3294.2 L662.3,3287.1 L670.0,3279.7 L679.3,3280.3 L685.5,3278.8 L690.2,3266.4 L694.8,3264.8 L701.0,3269.5 L708.7,3277.8 L716.5,3286.5 L722.7,3298.9 L728.9,3305.1 L735.1,3308.2 L741.3,3329.9 L745.9,3348.6 L750.6,3361.0 L758.3,3379.6 L763.0,3392.0 L767.6,3405.9 L776.9,3419.9 L786.2,3435.4 L794.0,3449.3 L800.2,3453.3 L809.5,3461.7 L817.2,3475.6 L826.5,3481.8 L837.3,3489.6 L842.0,3503.5 L846.6,3515.9 L851.3,3523.7 L859.0,3517.5 L866.8,3515.3 L873.0,3519.6 L882.3,3522.1 L889.3,3523.3 L897.0,3517.1 L904.8,3515.9 L911.0,3510.3 L918.7,3507.8 L926.5,3500.4 L934.2,3491.1 L945.1,3497.3 L952.8,3484.0 L960.6,3473.7 L968.3,3473.7 L974.5,3470.0 L983.8,3477.8 L993.1,3473.1 L999.3,3466.9 L1005.5,3463.8 L1013.2,3468.5 L1022.5,3478.7 L1030.3,3480.9 L1038.0,3481.8 L1045.8,3476.8 L1052.0,3480.9 L1059.7,3493.3 L1065.9,3498.5 L1073.7,3491.1 L1081.4,3489.2 L1086.1,3493.3 L1090.7,3501.6 L1095.4,3501.6 L1101.6,3494.2 L1109.3,3496.4 L1114.0,3501.0 L1120.2,3507.8 L1126.4,3503.5 L1134.1,3512.8 L1141.8,3513.4 L1151.1,3515.0 L1157.3,3518.0 L1163.5,3524.2 L1169.7,3528.3 L1174.4,3532.6 L1182.1,3534.5 L1189.9,3556.8 L1196.1,3570.7 L1200.0,3569.2 L1206.4,3562.8 L1212.8,3569.2 L1217.6,3586.8 L1223.9,3601.1 L1230.3,3604.3 L1236.7,3601.8 L1244.7,3612.3 L1252.7,3621.9 L1259.1,3618.7 L1268.6,3617.1 L1276.6,3628.3 L1284.6,3639.5 L1292.6,3644.3 L1302.2,3647.4 L1310.2,3645.2 L1319.7,3644.3 L1327.7,3645.8 L1335.7,3652.2 L1345.3,3655.4 L1353.3,3657.0 L1361.2,3662.5 L1369.2,3658.0 L1377.2,3658.0 L1384.6,3665.6 L1391.6,3642.7 L1399.6,3627.3 L1405.9,3631.5 L1412.3,3647.4 L1418.7,3645.2 L1425.1,3650.6 L1433.1,3657.0 L1439.5,3663.4 L1445.8,3674.6 L1453.8,3682.6 L1460.2,3687.4 L1466.6,3704.9 L1473.0,3716.7 L1481.0,3716.1 L1488.9,3723.1 L1496.9,3733.7 L1504.9,3736.8 L1512.9,3740.0 L1517.7,3747.9 L1524.1,3754.9 L1528.9,3750.4 L1534.6,3747.9" stroke="#838000"/>
<path d="M246.2,3564.5 L253.9,3566.1 L261.7,3572.3 L269.4,3567.6 L277.2,3573.8 L284.9,3566.1 L292.7,3559.3 L300.4,3555.2 L308.2,3548.1 L315.9,3541.3 L323.7,3550.0 L331.4,3548.1 L337.6,3547.5 L345.4,3528.9 L353.1,3515.0 L362.4,3511.9 L370.2,3519.6 L376.3,3520.2 L384.1,3524.2 L391.8,3515.0 L399.6,3505.7 L407.3,3502.6 L415.1,3488.6 L422.8,3476.2 L430.6,3457.0 L438.3,3462.3 L446.1,3478.7 L453.8,3476.8 L460.0,3451.4 L467.8,3435.3 L477.1,3424.2 L484.8,3435.9 L492.6,3422.9 L500.3,3409.6 L508.1,3407.4 L515.8,3406.5 L523.5,3400.3 L529.7,3387.9 L537.5,3377.7 L545.2,3374.6 L553.0,3356.0 L560.7,3344.5 L566.2,3336.1 L575.5,3320.6 L583.2,3314.4 L591.0,3300.4 L598.7,3291.2 L606.5,3287.1 L614.2,3275.7 L622.0,3254.0 L629.7,3230.7 L637.5,3202.8 L645.2,3182.7 L653.0,3163.2 L660.7,3137.8 L668.5,3114.5 L674.7,3094.4 L684.0,3079.8 L690.2,3060.3 L696.3,3041.1 L698.8,3025.0 L705.6,3025.0 L711.8,3063.4 L719.6,3074.2 L727.3,3081.4 L735.1,3074.2 L744.4,3085.1 L749.0,3105.2 L756.8,3144.0 L766.1,3164.1 L772.3,3188.9 L780.0,3196.6 L789.3,3215.2 L795.5,3243.1 L803.3,3280.3 L811.0,3305.1 L818.8,3320.6 L826.5,3328.0 L832.7,3351.7 L842.0,3361.0 L848.2,3361.0 L855.9,3354.2 L863.7,3365.6 L869.9,3381.1 L879.2,3385.8 L886.2,3383.3 L893.9,3393.2 L901.7,3395.0 L909.4,3380.2 L917.2,3365.3 L924.9,3349.8 L932.7,3355.4 L939.5,3375.5 L948.2,3365.3 L954.4,3350.7 L962.1,3341.4 L969.9,3330.0 L977.6,3327.5 L985.4,3313.5 L991.6,3291.8 L999.3,3286.6 L1007.1,3292.8 L1014.8,3299.0 L1022.5,3311.4 L1030.3,3308.9 L1038.0,3312.0 L1044.2,3312.6 L1052.0,3322.8 L1059.7,3339.9 L1067.5,3352.3 L1075.2,3372.4 L1081.4,3395.6 L1089.2,3417.3 L1096.9,3425.1 L1104.7,3414.2 L1112.4,3415.8 L1120.2,3437.5 L1127.9,3448.3 L1135.7,3468.5 L1143.4,3474.7 L1149.6,3474.7 L1157.3,3484.0 L1166.6,3479.3 L1177.5,3477.8 L1186.8,3486.1 L1196.1,3479.3 L1203.8,3473.7 L1209.6,3473.4 L1217.6,3492.6 L1223.9,3514.9 L1231.9,3529.3 L1239.9,3519.7 L1247.9,3524.5 L1254.3,3537.3 L1262.3,3551.7 L1268.6,3542.1 L1276.6,3537.9 L1283.7,3526.1 L1292.6,3531.5 L1299.0,3545.3 L1305.4,3556.4 L1313.3,3563.5 L1321.3,3575.0 L1327.7,3564.4 L1337.3,3569.2 L1345.3,3575.6 L1353.3,3584.5 L1361.2,3588.4 L1369.2,3582.6 L1377.2,3576.2 L1386.8,3572.4 L1394.8,3567.6 L1402.7,3559.6 L1412.3,3565.4 L1421.9,3570.8 L1431.5,3577.2 L1439.5,3562.8 L1446.5,3550.1 L1453.8,3562.8 L1461.8,3575.6 L1468.8,3580.4 L1476.2,3562.8 L1483.5,3547.5 L1490.5,3551.7 L1498.5,3562.2 L1505.9,3566.0 L1513.5,3556.4 L1520.9,3554.9 L1528.9,3552.6 L1535.2,3542.1" stroke="#FF40B4"/>
</g>
<line x1="245.3" y1="3031.4" x2="245.3" y2="4080.0" stroke="#000" stroke-width="3.6" />
<line x1="243.5" y1="4078.0" x2="1538.7" y2="4078.0" stroke="#000" stroke-width="3.8" />
<line x1="225.0" y1="3033.2" x2="246.0" y2="3033.2" stroke="#000" stroke-width="3.6" />
<line x1="235.0" y1="3062.2" x2="246.0" y2="3062.2" stroke="#000" stroke-width="3.6" />
<line x1="225.0" y1="3091.2" x2="246.0" y2="3091.2" stroke="#000" stroke-width="3.6" />
<line x1="235.0" y1="3120.3" x2="246.0" y2="3120.3" stroke="#000" stroke-width="3.6" />
<line x1="225.0" y1="3149.3" x2="246.0" y2="3149.3" stroke="#000" stroke-width="3.6" />
<line x1="235.0" y1="3178.3" x2="246.0" y2="3178.3" stroke="#000" stroke-width="3.6" />
<line x1="225.0" y1="3207.3" x2="246.0" y2="3207.3" stroke="#000" stroke-width="3.6" />
<line x1="235.0" y1="3236.3" x2="246.0" y2="3236.3" stroke="#000" stroke-width="3.6" />
<line x1="225.0" y1="3265.4" x2="246.0" y2="3265.4" stroke="#000" stroke-width="3.6" />
<line x1="235.0" y1="3294.4" x2="246.0" y2="3294.4" stroke="#000" stroke-width="3.6" />
<line x1="225.0" y1="3323.4" x2="246.0" y2="3323.4" stroke="#000" stroke-width="3.6" />
<line x1="235.0" y1="3352.4" x2="246.0" y2="3352.4" stroke="#000" stroke-width="3.6" />
<line x1="225.0" y1="3381.4" x2="246.0" y2="3381.4" stroke="#000" stroke-width="3.6" />
<line x1="235.0" y1="3410.5" x2="246.0" y2="3410.5" stroke="#000" stroke-width="3.6" />
<line x1="225.0" y1="3439.5" x2="246.0" y2="3439.5" stroke="#000" stroke-width="3.6" />
<line x1="235.0" y1="3468.5" x2="246.0" y2="3468.5" stroke="#000" stroke-width="3.6" />
<line x1="225.0" y1="3497.5" x2="246.0" y2="3497.5" stroke="#000" stroke-width="3.6" />
<line x1="235.0" y1="3526.5" x2="246.0" y2="3526.5" stroke="#000" stroke-width="3.6" />
<line x1="225.0" y1="3555.6" x2="246.0" y2="3555.6" stroke="#000" stroke-width="3.6" />
<line x1="235.0" y1="3584.6" x2="246.0" y2="3584.6" stroke="#000" stroke-width="3.6" />
<line x1="225.0" y1="3613.6" x2="246.0" y2="3613.6" stroke="#000" stroke-width="3.6" />
<line x1="235.0" y1="3642.6" x2="246.0" y2="3642.6" stroke="#000" stroke-width="3.6" />
<line x1="225.0" y1="3671.6" x2="246.0" y2="3671.6" stroke="#000" stroke-width="3.6" />
<line x1="235.0" y1="3700.7" x2="246.0" y2="3700.7" stroke="#000" stroke-width="3.6" />
<line x1="225.0" y1="3729.7" x2="246.0" y2="3729.7" stroke="#000" stroke-width="3.6" />
<line x1="235.0" y1="3758.7" x2="246.0" y2="3758.7" stroke="#000" stroke-width="3.6" />
<line x1="225.0" y1="3787.7" x2="246.0" y2="3787.7" stroke="#000" stroke-width="3.6" />
<line x1="235.0" y1="3816.7" x2="246.0" y2="3816.7" stroke="#000" stroke-width="3.6" />
<line x1="225.0" y1="3845.8" x2="246.0" y2="3845.8" stroke="#000" stroke-width="3.6" />
<line x1="235.0" y1="3874.8" x2="246.0" y2="3874.8" stroke="#000" stroke-width="3.6" />
<line x1="225.0" y1="3903.8" x2="246.0" y2="3903.8" stroke="#000" stroke-width="3.6" />
<line x1="235.0" y1="3932.8" x2="246.0" y2="3932.8" stroke="#000" stroke-width="3.6" />
<line x1="225.0" y1="3961.8" x2="246.0" y2="3961.8" stroke="#000" stroke-width="3.6" />
<line x1="235.0" y1="3990.9" x2="246.0" y2="3990.9" stroke="#000" stroke-width="3.6" />
<line x1="225.0" y1="4019.9" x2="246.0" y2="4019.9" stroke="#000" stroke-width="3.6" />
<line x1="235.0" y1="4048.9" x2="246.0" y2="4048.9" stroke="#000" stroke-width="3.6" />
<line x1="225.0" y1="4077.9" x2="246.0" y2="4077.9" stroke="#000" stroke-width="3.6" />
<line x1="245.0" y1="4077.0" x2="245.0" y2="4098.0" stroke="#000" stroke-width="3.6" />
<text x="0.0" y="0.0" font-size="45" text-anchor="end" font-weight="normal" fill="#000" font-family="'Liberation Sans', Arial, sans-serif" transform="translate(261.2 4110.3) rotate(-90)">360</text>
<line x1="321.0" y1="4077.0" x2="321.0" y2="4098.0" stroke="#000" stroke-width="3.6" />
<text x="0.0" y="0.0" font-size="45" text-anchor="end" font-weight="normal" fill="#000" font-family="'Liberation Sans', Arial, sans-serif" transform="translate(337.2 4110.3) rotate(-90)">380</text>
<line x1="397.0" y1="4077.0" x2="397.0" y2="4098.0" stroke="#000" stroke-width="3.6" />
<text x="0.0" y="0.0" font-size="45" text-anchor="end" font-weight="normal" fill="#000" font-family="'Liberation Sans', Arial, sans-serif" transform="translate(413.2 4110.3) rotate(-90)">400</text>
<line x1="473.0" y1="4077.0" x2="473.0" y2="4098.0" stroke="#000" stroke-width="3.6" />
<text x="0.0" y="0.0" font-size="45" text-anchor="end" font-weight="normal" fill="#000" font-family="'Liberation Sans', Arial, sans-serif" transform="translate(489.2 4110.3) rotate(-90)">420</text>
<line x1="549.0" y1="4077.0" x2="549.0" y2="4098.0" stroke="#000" stroke-width="3.6" />
<text x="0.0" y="0.0" font-size="45" text-anchor="end" font-weight="normal" fill="#000" font-family="'Liberation Sans', Arial, sans-serif" transform="translate(565.2 4110.3) rotate(-90)">440</text>
<line x1="625.0" y1="4077.0" x2="625.0" y2="4098.0" stroke="#000" stroke-width="3.6" />
<text x="0.0" y="0.0" font-size="45" text-anchor="end" font-weight="normal" fill="#000" font-family="'Liberation Sans', Arial, sans-serif" transform="translate(641.2 4110.3) rotate(-90)">460</text>
<line x1="701.0" y1="4077.0" x2="701.0" y2="4098.0" stroke="#000" stroke-width="3.6" />
<text x="0.0" y="0.0" font-size="45" text-anchor="end" font-weight="normal" fill="#000" font-family="'Liberation Sans', Arial, sans-serif" transform="translate(717.2 4110.3) rotate(-90)">480</text>
<line x1="777.0" y1="4077.0" x2="777.0" y2="4098.0" stroke="#000" stroke-width="3.6" />
<text x="0.0" y="0.0" font-size="45" text-anchor="end" font-weight="normal" fill="#000" font-family="'Liberation Sans', Arial, sans-serif" transform="translate(793.2 4110.3) rotate(-90)">500</text>
<line x1="853.0" y1="4077.0" x2="853.0" y2="4098.0" stroke="#000" stroke-width="3.6" />
<text x="0.0" y="0.0" font-size="45" text-anchor="end" font-weight="normal" fill="#000" font-family="'Liberation Sans', Arial, sans-serif" transform="translate(869.2 4110.3) rotate(-90)">520</text>
<line x1="929.0" y1="4077.0" x2="929.0" y2="4098.0" stroke="#000" stroke-width="3.6" />
<text x="0.0" y="0.0" font-size="45" text-anchor="end" font-weight="normal" fill="#000" font-family="'Liberation Sans', Arial, sans-serif" transform="translate(945.2 4110.3) rotate(-90)">540</text>
<line x1="1005.0" y1="4077.0" x2="1005.0" y2="4098.0" stroke="#000" stroke-width="3.6" />
<text x="0.0" y="0.0" font-size="45" text-anchor="end" font-weight="normal" fill="#000" font-family="'Liberation Sans', Arial, sans-serif" transform="translate(1021.2 4110.3) rotate(-90)">560</text>
<line x1="1081.0" y1="4077.0" x2="1081.0" y2="4098.0" stroke="#000" stroke-width="3.6" />
<text x="0.0" y="0.0" font-size="45" text-anchor="end" font-weight="normal" fill="#000" font-family="'Liberation Sans', Arial, sans-serif" transform="translate(1097.2 4110.3) rotate(-90)">580</text>
<line x1="1157.0" y1="4077.0" x2="1157.0" y2="4098.0" stroke="#000" stroke-width="3.6" />
<text x="0.0" y="0.0" font-size="45" text-anchor="end" font-weight="normal" fill="#000" font-family="'Liberation Sans', Arial, sans-serif" transform="translate(1173.2 4110.3) rotate(-90)">600</text>
<line x1="1233.0" y1="4077.0" x2="1233.0" y2="4098.0" stroke="#000" stroke-width="3.6" />
<text x="0.0" y="0.0" font-size="45" text-anchor="end" font-weight="normal" fill="#000" font-family="'Liberation Sans', Arial, sans-serif" transform="translate(1249.2 4110.3) rotate(-90)">620</text>
<line x1="1309.0" y1="4077.0" x2="1309.0" y2="4098.0" stroke="#000" stroke-width="3.6" />
<text x="0.0" y="0.0" font-size="45" text-anchor="end" font-weight="normal" fill="#000" font-family="'Liberation Sans', Arial, sans-serif" transform="translate(1325.2 4110.3) rotate(-90)">640</text>
<line x1="1385.0" y1="4077.0" x2="1385.0" y2="4098.0" stroke="#000" stroke-width="3.6" />
<text x="0.0" y="0.0" font-size="45" text-anchor="end" font-weight="normal" fill="#000" font-family="'Liberation Sans', Arial, sans-serif" transform="translate(1401.2 4110.3) rotate(-90)">660</text>
<line x1="1461.0" y1="4077.0" x2="1461.0" y2="4098.0" stroke="#000" stroke-width="3.6" />
<text x="0.0" y="0.0" font-size="45" text-anchor="end" font-weight="normal" fill="#000" font-family="'Liberation Sans', Arial, sans-serif" transform="translate(1477.2 4110.3) rotate(-90)">680</text>
<line x1="1537.0" y1="4077.0" x2="1537.0" y2="4098.0" stroke="#000" stroke-width="3.6" />
<text x="0.0" y="0.0" font-size="45" text-anchor="end" font-weight="normal" fill="#000" font-family="'Liberation Sans', Arial, sans-serif" transform="translate(1553.2 4110.3) rotate(-90)">700</text>
<line x1="283.0" y1="4077.0" x2="283.0" y2="4088.0" stroke="#000" stroke-width="3.6" />
<line x1="359.0" y1="4077.0" x2="359.0" y2="4088.0" stroke="#000" stroke-width="3.6" />
<line x1="435.0" y1="4077.0" x2="435.0" y2="4088.0" stroke="#000" stroke-width="3.6" />
<line x1="511.0" y1="4077.0" x2="511.0" y2="4088.0" stroke="#000" stroke-width="3.6" />
<line x1="587.0" y1="4077.0" x2="587.0" y2="4088.0" stroke="#000" stroke-width="3.6" />
<line x1="663.0" y1="4077.0" x2="663.0" y2="4088.0" stroke="#000" stroke-width="3.6" />
<line x1="739.0" y1="4077.0" x2="739.0" y2="4088.0" stroke="#000" stroke-width="3.6" />
<line x1="815.0" y1="4077.0" x2="815.0" y2="4088.0" stroke="#000" stroke-width="3.6" />
<line x1="891.0" y1="4077.0" x2="891.0" y2="4088.0" stroke="#000" stroke-width="3.6" />
<line x1="967.0" y1="4077.0" x2="967.0" y2="4088.0" stroke="#000" stroke-width="3.6" />
<line x1="1043.0" y1="4077.0" x2="1043.0" y2="4088.0" stroke="#000" stroke-width="3.6" />
<line x1="1119.0" y1="4077.0" x2="1119.0" y2="4088.0" stroke="#000" stroke-width="3.6" />
<line x1="1195.0" y1="4077.0" x2="1195.0" y2="4088.0" stroke="#000" stroke-width="3.6" />
<line x1="1271.0" y1="4077.0" x2="1271.0" y2="4088.0" stroke="#000" stroke-width="3.6" />
<line x1="1347.0" y1="4077.0" x2="1347.0" y2="4088.0" stroke="#000" stroke-width="3.6" />
<line x1="1423.0" y1="4077.0" x2="1423.0" y2="4088.0" stroke="#000" stroke-width="3.6" />
<line x1="1499.0" y1="4077.0" x2="1499.0" y2="4088.0" stroke="#000" stroke-width="3.6" />
<text x="650" y="4242.3" font-size="54.5" font-family="'Liberation Sans', Arial, sans-serif">Wavenumber (cm<tspan font-size="36" dy="-22">−1</tspan><tspan dy="22">)</tspan></text>
<text x="0.0" y="0.0" font-size="54.5" text-anchor="start" font-weight="normal" fill="#000" font-family="'Liberation Sans', Arial, sans-serif" transform="translate(150 3776) rotate(-90)">Normalised Intensity</text>
<text x="0.0" y="0.0" font-size="52.5" font-weight="bold" fill="#000" font-family="'Liberation Sans', Arial, sans-serif" transform="translate(516 3021.9) scale(1.027 1)">Si-O, ring breathing</text>
<text x="981" y="3252.3" font-size="53.5" font-family="'Liberation Sans', Arial, sans-serif"><tspan font-weight="bold">Co-N</tspan>, 558-560 cm<tspan font-size="34" dy="-20">−1</tspan></text>
<text x="1367.5" y="3503.4" font-size="54" text-anchor="start" font-weight="normal" fill="#000" font-family="'Liberation Sans', Arial, sans-serif" >15E-Co</text>
<text x="1414.7" y="3631.5" font-size="54" text-anchor="start" font-weight="normal" fill="#000" font-family="'Liberation Sans', Arial, sans-serif" >5E-Co</text>
<text x="1395.0" y="3812.7" font-size="54" text-anchor="start" font-weight="normal" fill="#000" font-family="'Liberation Sans', Arial, sans-serif" >1E-Co</text>
<text x="1339.4" y="3955.5" font-size="54" text-anchor="start" font-weight="normal" fill="#000" font-family="'Liberation Sans', Arial, sans-serif" >0.1E-Co</text>
<text x="1386.2" y="4035.4" font-size="54" text-anchor="start" font-weight="normal" fill="#000" font-family="'Liberation Sans', Arial, sans-serif" >0E-Co</text>
<text x="805.5" y="4402.2" font-size="85" text-anchor="start" font-weight="normal" fill="#000" font-family="'Liberation Serif', 'Times New Roman', serif" >(b)</text>
</svg></body></html>
